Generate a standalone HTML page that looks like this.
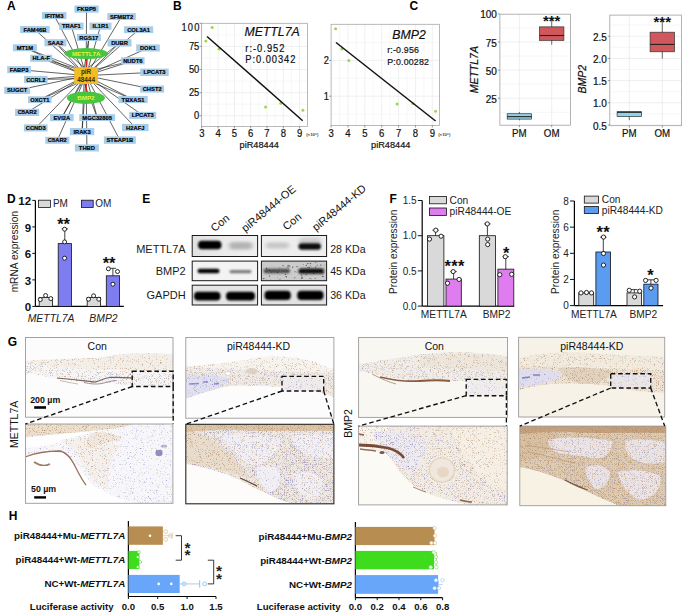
<!DOCTYPE html>
<html><head><meta charset="utf-8"><style>
html,body{margin:0;padding:0;background:#fff;}
body{width:685px;height:614px;overflow:hidden;}
svg{display:block;font-family:"Liberation Sans", sans-serif;}
</style></head><body>
<svg width="685" height="614" viewBox="0 0 685 614">
<rect x="0" y="0" width="685" height="614" fill="#fff"/>
<text x="7.00" y="9.87" font-size="12" font-weight="bold" text-anchor="start" fill="#000">A</text>
<line x1="86.55" y1="9.10" x2="86.10" y2="75.60" stroke="#111" stroke-width="0.65"/>
<line x1="54.20" y1="15.55" x2="86.10" y2="75.60" stroke="#111" stroke-width="0.65"/>
<line x1="121.55" y1="16.55" x2="86.10" y2="75.60" stroke="#111" stroke-width="0.65"/>
<line x1="71.35" y1="26.15" x2="86.10" y2="75.60" stroke="#111" stroke-width="0.65"/>
<line x1="100.50" y1="26.15" x2="86.10" y2="75.60" stroke="#111" stroke-width="0.65"/>
<line x1="34.90" y1="29.55" x2="86.10" y2="75.60" stroke="#111" stroke-width="0.65"/>
<line x1="138.60" y1="29.70" x2="86.10" y2="75.60" stroke="#111" stroke-width="0.65"/>
<line x1="88.85" y1="37.45" x2="86.10" y2="75.60" stroke="#111" stroke-width="0.65"/>
<line x1="88.85" y1="37.45" x2="83.10" y2="75.60" stroke="#111" stroke-width="0.6"/>
<line x1="55.40" y1="42.75" x2="86.10" y2="75.60" stroke="#111" stroke-width="0.65"/>
<line x1="55.40" y1="42.75" x2="90.10" y2="72.60" stroke="#111" stroke-width="0.6"/>
<line x1="119.55" y1="42.90" x2="86.10" y2="75.60" stroke="#111" stroke-width="0.65"/>
<line x1="119.55" y1="42.90" x2="82.10" y2="72.60" stroke="#111" stroke-width="0.6"/>
<line x1="24.85" y1="47.75" x2="86.10" y2="75.60" stroke="#111" stroke-width="0.65"/>
<line x1="24.85" y1="47.75" x2="86.10" y2="71.60" stroke="#111" stroke-width="0.6"/>
<line x1="148.00" y1="47.95" x2="86.10" y2="75.60" stroke="#111" stroke-width="0.65"/>
<line x1="41.25" y1="58.25" x2="86.10" y2="75.60" stroke="#111" stroke-width="0.65"/>
<line x1="41.25" y1="58.25" x2="86.10" y2="71.60" stroke="#111" stroke-width="0.6"/>
<line x1="132.85" y1="60.80" x2="86.10" y2="75.60" stroke="#111" stroke-width="0.65"/>
<line x1="132.85" y1="60.80" x2="86.10" y2="71.60" stroke="#111" stroke-width="0.6"/>
<line x1="19.05" y1="69.65" x2="86.10" y2="75.60" stroke="#111" stroke-width="0.65"/>
<line x1="154.45" y1="72.30" x2="86.10" y2="75.60" stroke="#111" stroke-width="0.65"/>
<line x1="35.80" y1="79.50" x2="86.10" y2="75.60" stroke="#111" stroke-width="0.65"/>
<line x1="35.80" y1="79.50" x2="86.10" y2="78.60" stroke="#111" stroke-width="0.6"/>
<line x1="152.15" y1="89.05" x2="86.10" y2="75.60" stroke="#111" stroke-width="0.65"/>
<line x1="17.10" y1="90.35" x2="86.10" y2="75.60" stroke="#111" stroke-width="0.65"/>
<line x1="39.80" y1="99.70" x2="86.10" y2="75.60" stroke="#111" stroke-width="0.65"/>
<line x1="39.80" y1="99.70" x2="86.10" y2="79.60" stroke="#111" stroke-width="0.6"/>
<line x1="133.05" y1="99.55" x2="86.10" y2="75.60" stroke="#111" stroke-width="0.65"/>
<line x1="133.05" y1="99.55" x2="86.10" y2="79.60" stroke="#111" stroke-width="0.6"/>
<line x1="27.15" y1="112.40" x2="86.10" y2="75.60" stroke="#111" stroke-width="0.65"/>
<line x1="142.75" y1="115.35" x2="86.10" y2="75.60" stroke="#111" stroke-width="0.65"/>
<line x1="61.80" y1="117.60" x2="86.10" y2="75.60" stroke="#111" stroke-width="0.65"/>
<line x1="61.80" y1="117.60" x2="83.10" y2="78.60" stroke="#111" stroke-width="0.6"/>
<line x1="97.20" y1="117.60" x2="86.10" y2="75.60" stroke="#111" stroke-width="0.65"/>
<line x1="97.20" y1="117.60" x2="83.10" y2="79.60" stroke="#111" stroke-width="0.6"/>
<line x1="35.75" y1="127.90" x2="86.10" y2="75.60" stroke="#111" stroke-width="0.65"/>
<line x1="135.30" y1="127.50" x2="86.10" y2="75.60" stroke="#111" stroke-width="0.65"/>
<line x1="82.10" y1="131.60" x2="86.10" y2="75.60" stroke="#111" stroke-width="0.65"/>
<line x1="82.10" y1="131.60" x2="84.10" y2="79.60" stroke="#111" stroke-width="0.6"/>
<line x1="57.35" y1="140.30" x2="86.10" y2="75.60" stroke="#111" stroke-width="0.65"/>
<line x1="119.85" y1="140.10" x2="86.10" y2="75.60" stroke="#111" stroke-width="0.65"/>
<line x1="86.90" y1="147.95" x2="86.10" y2="75.60" stroke="#111" stroke-width="0.65"/>
<line x1="86.30" y1="56.00" x2="86.30" y2="70.00" stroke="#e0201a" stroke-width="1.1"/>
<line x1="86.30" y1="82.00" x2="86.30" y2="96.00" stroke="#e0201a" stroke-width="1.1"/>
<rect x="74.40" y="5.50" width="24.30" height="7.20" fill="#a8cde9" stroke="none" stroke-width="1"/>
<text x="86.55" y="11.19" font-size="5.8" font-weight="bold" text-anchor="middle" fill="#000" stroke="#000" stroke-width="0.18">FKBP5</text>
<rect x="42.00" y="12.10" width="24.40" height="6.90" fill="#a8cde9" stroke="none" stroke-width="1"/>
<text x="54.20" y="17.64" font-size="5.8" font-weight="bold" text-anchor="middle" fill="#000" stroke="#000" stroke-width="0.18">IFITM3</text>
<rect x="107.30" y="13.10" width="28.50" height="6.90" fill="#a8cde9" stroke="none" stroke-width="1"/>
<text x="121.55" y="18.64" font-size="5.8" font-weight="bold" text-anchor="middle" fill="#000" stroke="#000" stroke-width="0.18">SFMBT2</text>
<rect x="59.10" y="22.60" width="24.50" height="7.10" fill="#a8cde9" stroke="none" stroke-width="1"/>
<text x="71.35" y="28.24" font-size="5.8" font-weight="bold" text-anchor="middle" fill="#000" stroke="#000" stroke-width="0.18">TRAF1</text>
<rect x="89.50" y="22.60" width="22.00" height="7.10" fill="#a8cde9" stroke="none" stroke-width="1"/>
<text x="100.50" y="28.24" font-size="5.8" font-weight="bold" text-anchor="middle" fill="#000" stroke="#000" stroke-width="0.18">IL1R1</text>
<rect x="20.10" y="26.00" width="29.60" height="7.10" fill="#a8cde9" stroke="none" stroke-width="1"/>
<text x="34.90" y="31.64" font-size="5.8" font-weight="bold" text-anchor="middle" fill="#000" stroke="#000" stroke-width="0.18">FAM46B</text>
<rect x="124.00" y="26.30" width="29.20" height="6.80" fill="#a8cde9" stroke="none" stroke-width="1"/>
<text x="138.60" y="31.79" font-size="5.8" font-weight="bold" text-anchor="middle" fill="#000" stroke="#000" stroke-width="0.18">COL3A1</text>
<rect x="76.90" y="33.90" width="23.90" height="7.10" fill="#a8cde9" stroke="none" stroke-width="1"/>
<text x="88.85" y="39.54" font-size="5.8" font-weight="bold" text-anchor="middle" fill="#000" stroke="#000" stroke-width="0.18">RGS17</text>
<rect x="44.40" y="39.20" width="22.00" height="7.10" fill="#a8cde9" stroke="none" stroke-width="1"/>
<text x="55.40" y="44.84" font-size="5.8" font-weight="bold" text-anchor="middle" fill="#000" stroke="#000" stroke-width="0.18">SAA2</text>
<rect x="107.60" y="39.20" width="23.90" height="7.40" fill="#a8cde9" stroke="none" stroke-width="1"/>
<text x="119.55" y="44.99" font-size="5.8" font-weight="bold" text-anchor="middle" fill="#000" stroke="#000" stroke-width="0.18">DUBR</text>
<rect x="12.90" y="44.30" width="23.90" height="6.90" fill="#a8cde9" stroke="none" stroke-width="1"/>
<text x="24.85" y="49.84" font-size="5.8" font-weight="bold" text-anchor="middle" fill="#000" stroke="#000" stroke-width="0.18">MT1M</text>
<rect x="136.20" y="44.40" width="23.60" height="7.10" fill="#a8cde9" stroke="none" stroke-width="1"/>
<text x="148.00" y="50.04" font-size="5.8" font-weight="bold" text-anchor="middle" fill="#000" stroke="#000" stroke-width="0.18">DOK1</text>
<rect x="30.20" y="54.70" width="22.10" height="7.10" fill="#a8cde9" stroke="none" stroke-width="1"/>
<text x="41.25" y="60.34" font-size="5.8" font-weight="bold" text-anchor="middle" fill="#000" stroke="#000" stroke-width="0.18">HLA-F</text>
<rect x="121.10" y="57.20" width="23.50" height="7.20" fill="#a8cde9" stroke="none" stroke-width="1"/>
<text x="132.85" y="62.89" font-size="5.8" font-weight="bold" text-anchor="middle" fill="#000" stroke="#000" stroke-width="0.18">NUDT6</text>
<rect x="7.20" y="66.10" width="23.70" height="7.10" fill="#a8cde9" stroke="none" stroke-width="1"/>
<text x="19.05" y="71.74" font-size="5.8" font-weight="bold" text-anchor="middle" fill="#000" stroke="#000" stroke-width="0.18">FABP3</text>
<rect x="140.20" y="68.60" width="28.50" height="7.40" fill="#a8cde9" stroke="none" stroke-width="1"/>
<text x="154.45" y="74.39" font-size="5.8" font-weight="bold" text-anchor="middle" fill="#000" stroke="#000" stroke-width="0.18">LPCAT3</text>
<rect x="24.00" y="75.90" width="23.60" height="7.20" fill="#a8cde9" stroke="none" stroke-width="1"/>
<text x="35.80" y="81.59" font-size="5.8" font-weight="bold" text-anchor="middle" fill="#000" stroke="#000" stroke-width="0.18">CCRL2</text>
<rect x="140.20" y="85.50" width="23.90" height="7.10" fill="#a8cde9" stroke="none" stroke-width="1"/>
<text x="152.15" y="91.14" font-size="5.8" font-weight="bold" text-anchor="middle" fill="#000" stroke="#000" stroke-width="0.18">CHST2</text>
<rect x="4.20" y="86.80" width="25.80" height="7.10" fill="#a8cde9" stroke="none" stroke-width="1"/>
<text x="17.10" y="92.44" font-size="5.8" font-weight="bold" text-anchor="middle" fill="#000" stroke="#000" stroke-width="0.18">SUGCT</text>
<rect x="28.00" y="96.30" width="23.60" height="6.80" fill="#a8cde9" stroke="none" stroke-width="1"/>
<text x="39.80" y="101.79" font-size="5.8" font-weight="bold" text-anchor="middle" fill="#000" stroke="#000" stroke-width="0.18">OXCT1</text>
<rect x="118.40" y="96.00" width="29.30" height="7.10" fill="#a8cde9" stroke="none" stroke-width="1"/>
<text x="133.05" y="101.64" font-size="5.8" font-weight="bold" text-anchor="middle" fill="#000" stroke="#000" stroke-width="0.18">TBXAS1</text>
<rect x="15.10" y="108.80" width="24.10" height="7.20" fill="#a8cde9" stroke="none" stroke-width="1"/>
<text x="27.15" y="114.49" font-size="5.8" font-weight="bold" text-anchor="middle" fill="#000" stroke="#000" stroke-width="0.18">C5AR2</text>
<rect x="129.30" y="111.80" width="26.90" height="7.10" fill="#a8cde9" stroke="none" stroke-width="1"/>
<text x="142.75" y="117.44" font-size="5.8" font-weight="bold" text-anchor="middle" fill="#000" stroke="#000" stroke-width="0.18">LPCAT3</text>
<rect x="50.00" y="114.00" width="23.60" height="7.20" fill="#a8cde9" stroke="none" stroke-width="1"/>
<text x="61.80" y="119.69" font-size="5.8" font-weight="bold" text-anchor="middle" fill="#000" stroke="#000" stroke-width="0.18">EVI2A</text>
<rect x="79.30" y="114.20" width="35.80" height="6.80" fill="#a8cde9" stroke="none" stroke-width="1"/>
<text x="97.20" y="119.69" font-size="5.8" font-weight="bold" text-anchor="middle" fill="#000" stroke="#000" stroke-width="0.18">MGC32805</text>
<rect x="23.90" y="124.30" width="23.70" height="7.20" fill="#a8cde9" stroke="none" stroke-width="1"/>
<text x="35.75" y="129.99" font-size="5.8" font-weight="bold" text-anchor="middle" fill="#000" stroke="#000" stroke-width="0.18">CCND3</text>
<rect x="122.00" y="123.90" width="26.60" height="7.20" fill="#a8cde9" stroke="none" stroke-width="1"/>
<text x="135.30" y="129.59" font-size="5.8" font-weight="bold" text-anchor="middle" fill="#000" stroke="#000" stroke-width="0.18">H2AFJ</text>
<rect x="69.90" y="128.00" width="24.40" height="7.20" fill="#a8cde9" stroke="none" stroke-width="1"/>
<text x="82.10" y="133.69" font-size="5.8" font-weight="bold" text-anchor="middle" fill="#000" stroke="#000" stroke-width="0.18">IRAK3</text>
<rect x="45.30" y="136.80" width="24.10" height="7.00" fill="#a8cde9" stroke="none" stroke-width="1"/>
<text x="57.35" y="142.39" font-size="5.8" font-weight="bold" text-anchor="middle" fill="#000" stroke="#000" stroke-width="0.18">C5AR2</text>
<rect x="103.90" y="136.40" width="31.90" height="7.40" fill="#a8cde9" stroke="none" stroke-width="1"/>
<text x="119.85" y="142.19" font-size="5.8" font-weight="bold" text-anchor="middle" fill="#000" stroke="#000" stroke-width="0.18">STEAP1B</text>
<rect x="74.90" y="144.40" width="24.00" height="7.10" fill="#a8cde9" stroke="none" stroke-width="1"/>
<text x="86.90" y="150.04" font-size="5.8" font-weight="bold" text-anchor="middle" fill="#000" stroke="#000" stroke-width="0.18">THBD</text>
<ellipse cx="86.2" cy="53.6" rx="21.8" ry="5.5" fill="#46c640"/>
<text x="86.20" y="55.83" font-size="6.2" font-weight="bold" text-anchor="middle" fill="#e6f23a">METTL7A</text>
<ellipse cx="85.9" cy="97.8" rx="19.1" ry="6.2" fill="#46c640"/>
<text x="85.90" y="100.03" font-size="6.2" font-weight="bold" text-anchor="middle" fill="#e6f23a">BMP2</text>
<rect x="74.20" y="67.20" width="23.80" height="16.80" fill="#f2bd22" stroke="none" stroke-width="1"/>
<text x="86.10" y="73.90" font-size="6.4" font-weight="bold" text-anchor="middle" fill="#3b2a05">piR</text>
<text x="86.10" y="82.30" font-size="6.4" font-weight="bold" text-anchor="middle" fill="#3b2a05">48444</text>
<text x="172.90" y="9.82" font-size="12" font-weight="bold" text-anchor="start" fill="#000">B</text>
<line x1="201.80" y1="23.30" x2="201.80" y2="126.40" stroke="#e9e9e9" stroke-width="0.7"/>
<line x1="209.95" y1="23.30" x2="209.95" y2="126.40" stroke="#f3f3f3" stroke-width="0.7"/>
<line x1="218.10" y1="23.30" x2="218.10" y2="126.40" stroke="#e9e9e9" stroke-width="0.7"/>
<line x1="226.25" y1="23.30" x2="226.25" y2="126.40" stroke="#f3f3f3" stroke-width="0.7"/>
<line x1="234.40" y1="23.30" x2="234.40" y2="126.40" stroke="#e9e9e9" stroke-width="0.7"/>
<line x1="242.55" y1="23.30" x2="242.55" y2="126.40" stroke="#f3f3f3" stroke-width="0.7"/>
<line x1="250.70" y1="23.30" x2="250.70" y2="126.40" stroke="#e9e9e9" stroke-width="0.7"/>
<line x1="258.85" y1="23.30" x2="258.85" y2="126.40" stroke="#f3f3f3" stroke-width="0.7"/>
<line x1="267.00" y1="23.30" x2="267.00" y2="126.40" stroke="#e9e9e9" stroke-width="0.7"/>
<line x1="275.15" y1="23.30" x2="275.15" y2="126.40" stroke="#f3f3f3" stroke-width="0.7"/>
<line x1="283.30" y1="23.30" x2="283.30" y2="126.40" stroke="#e9e9e9" stroke-width="0.7"/>
<line x1="291.45" y1="23.30" x2="291.45" y2="126.40" stroke="#f3f3f3" stroke-width="0.7"/>
<line x1="299.60" y1="23.30" x2="299.60" y2="126.40" stroke="#e9e9e9" stroke-width="0.7"/>
<line x1="201.50" y1="104.23" x2="307.50" y2="104.23" stroke="#f3f3f3" stroke-width="0.7"/>
<line x1="201.50" y1="81.10" x2="307.50" y2="81.10" stroke="#f3f3f3" stroke-width="0.7"/>
<line x1="201.50" y1="57.97" x2="307.50" y2="57.97" stroke="#f3f3f3" stroke-width="0.7"/>
<line x1="201.50" y1="34.84" x2="307.50" y2="34.84" stroke="#f3f3f3" stroke-width="0.7"/>
<line x1="201.50" y1="115.80" x2="307.50" y2="115.80" stroke="#e9e9e9" stroke-width="0.7"/>
<line x1="201.50" y1="92.67" x2="307.50" y2="92.67" stroke="#e9e9e9" stroke-width="0.7"/>
<line x1="201.50" y1="69.53" x2="307.50" y2="69.53" stroke="#e9e9e9" stroke-width="0.7"/>
<line x1="201.50" y1="46.40" x2="307.50" y2="46.40" stroke="#e9e9e9" stroke-width="0.7"/>
<rect x="201.50" y="23.30" width="106.00" height="103.10" fill="none" stroke="#a8a8a8" stroke-width="0.8"/>
<line x1="201.80" y1="126.40" x2="201.80" y2="128.40" stroke="#555" stroke-width="0.6"/>
<text x="201.80" y="136.82" font-size="10.6" text-anchor="middle" fill="#111" transform="translate(201.80 0) scale(0.9 1) translate(-201.80 0)" stroke="#111" stroke-width="0.2">3</text>
<line x1="218.10" y1="126.40" x2="218.10" y2="128.40" stroke="#555" stroke-width="0.6"/>
<text x="218.10" y="136.82" font-size="10.6" text-anchor="middle" fill="#111" transform="translate(218.10 0) scale(0.9 1) translate(-218.10 0)" stroke="#111" stroke-width="0.2">4</text>
<line x1="234.40" y1="126.40" x2="234.40" y2="128.40" stroke="#555" stroke-width="0.6"/>
<text x="234.40" y="136.82" font-size="10.6" text-anchor="middle" fill="#111" transform="translate(234.40 0) scale(0.9 1) translate(-234.40 0)" stroke="#111" stroke-width="0.2">5</text>
<line x1="250.70" y1="126.40" x2="250.70" y2="128.40" stroke="#555" stroke-width="0.6"/>
<text x="250.70" y="136.82" font-size="10.6" text-anchor="middle" fill="#111" transform="translate(250.70 0) scale(0.9 1) translate(-250.70 0)" stroke="#111" stroke-width="0.2">6</text>
<line x1="267.00" y1="126.40" x2="267.00" y2="128.40" stroke="#555" stroke-width="0.6"/>
<text x="267.00" y="136.82" font-size="10.6" text-anchor="middle" fill="#111" transform="translate(267.00 0) scale(0.9 1) translate(-267.00 0)" stroke="#111" stroke-width="0.2">7</text>
<line x1="283.30" y1="126.40" x2="283.30" y2="128.40" stroke="#555" stroke-width="0.6"/>
<text x="283.30" y="136.82" font-size="10.6" text-anchor="middle" fill="#111" transform="translate(283.30 0) scale(0.9 1) translate(-283.30 0)" stroke="#111" stroke-width="0.2">8</text>
<line x1="299.60" y1="126.40" x2="299.60" y2="128.40" stroke="#555" stroke-width="0.6"/>
<text x="299.60" y="136.82" font-size="10.6" text-anchor="middle" fill="#111" transform="translate(299.60 0) scale(0.9 1) translate(-299.60 0)" stroke="#111" stroke-width="0.2">9</text>
<line x1="199.50" y1="23.27" x2="201.50" y2="23.27" stroke="#555" stroke-width="0.6"/>
<text x="200.70" y="31.32" font-size="10.6" text-anchor="end" fill="#111" letter-spacing="1.4" transform="translate(200.70 0) scale(0.88 1) translate(-200.70 0)" stroke="#111" stroke-width="0.2">100</text>
<line x1="199.50" y1="46.40" x2="201.50" y2="46.40" stroke="#555" stroke-width="0.6"/>
<text x="199.30" y="49.82" font-size="10.6" text-anchor="end" fill="#111" transform="translate(199.30 0) scale(0.88 1) translate(-199.30 0)" stroke="#111" stroke-width="0.2">75</text>
<line x1="199.50" y1="69.53" x2="201.50" y2="69.53" stroke="#555" stroke-width="0.6"/>
<text x="199.30" y="72.95" font-size="10.6" text-anchor="end" fill="#111" transform="translate(199.30 0) scale(0.88 1) translate(-199.30 0)" stroke="#111" stroke-width="0.2">50</text>
<line x1="199.50" y1="92.67" x2="201.50" y2="92.67" stroke="#555" stroke-width="0.6"/>
<text x="199.30" y="96.08" font-size="10.6" text-anchor="end" fill="#111" transform="translate(199.30 0) scale(0.88 1) translate(-199.30 0)" stroke="#111" stroke-width="0.2">25</text>
<line x1="199.50" y1="115.80" x2="201.50" y2="115.80" stroke="#555" stroke-width="0.6"/>
<text x="199.30" y="119.22" font-size="10.6" text-anchor="end" fill="#111" transform="translate(199.30 0) scale(0.88 1) translate(-199.30 0)" stroke="#111" stroke-width="0.2">0</text>
<circle cx="205.90" cy="40.90" r="1.5" fill="#9ad84a" stroke="none" stroke-width="0"/>
<circle cx="212.20" cy="27.60" r="1.5" fill="#9ad84a" stroke="none" stroke-width="0"/>
<circle cx="219.00" cy="49.00" r="1.5" fill="#9ad84a" stroke="none" stroke-width="0"/>
<circle cx="265.60" cy="106.90" r="1.5" fill="#9ad84a" stroke="none" stroke-width="0"/>
<circle cx="280.80" cy="103.30" r="1.5" fill="#9ad84a" stroke="none" stroke-width="0"/>
<circle cx="302.90" cy="110.30" r="1.5" fill="#9ad84a" stroke="none" stroke-width="0"/>
<line x1="207.00" y1="36.50" x2="302.70" y2="120.70" stroke="#111" stroke-width="1.5"/>
<text x="244.40" y="36.40" font-size="12.3" font-style="italic" text-anchor="start" fill="#111" stroke="#111" stroke-width="0.2">METTL7A</text>
<text x="245.30" y="51.52" font-size="10.6" text-anchor="start" fill="#111" letter-spacing="1.15" transform="translate(245.30 0) scale(0.88 1) translate(-245.30 0)" stroke="#111" stroke-width="0.2">r:-0.952</text>
<text x="245.30" y="63.42" font-size="10.6" text-anchor="start" fill="#111" letter-spacing="1.08" transform="translate(245.30 0) scale(0.88 1) translate(-245.30 0)" stroke="#111" stroke-width="0.2">P:0.00342</text>
<text x="306.20" y="135.55" font-size="4.3" font-weight="bold" text-anchor="start" fill="#444">(×10⁶)</text>
<text x="259.20" y="147.81" font-size="9.2" text-anchor="middle" fill="#111" stroke="#111" stroke-width="0.2">piR48444</text>
<line x1="339.54" y1="24.30" x2="339.54" y2="125.50" stroke="#f3f3f3" stroke-width="0.7"/>
<line x1="347.97" y1="24.30" x2="347.97" y2="125.50" stroke="#e9e9e9" stroke-width="0.7"/>
<line x1="356.41" y1="24.30" x2="356.41" y2="125.50" stroke="#f3f3f3" stroke-width="0.7"/>
<line x1="364.84" y1="24.30" x2="364.84" y2="125.50" stroke="#e9e9e9" stroke-width="0.7"/>
<line x1="373.28" y1="24.30" x2="373.28" y2="125.50" stroke="#f3f3f3" stroke-width="0.7"/>
<line x1="381.71" y1="24.30" x2="381.71" y2="125.50" stroke="#e9e9e9" stroke-width="0.7"/>
<line x1="390.15" y1="24.30" x2="390.15" y2="125.50" stroke="#f3f3f3" stroke-width="0.7"/>
<line x1="398.58" y1="24.30" x2="398.58" y2="125.50" stroke="#e9e9e9" stroke-width="0.7"/>
<line x1="407.02" y1="24.30" x2="407.02" y2="125.50" stroke="#f3f3f3" stroke-width="0.7"/>
<line x1="415.45" y1="24.30" x2="415.45" y2="125.50" stroke="#e9e9e9" stroke-width="0.7"/>
<line x1="423.89" y1="24.30" x2="423.89" y2="125.50" stroke="#f3f3f3" stroke-width="0.7"/>
<line x1="432.32" y1="24.30" x2="432.32" y2="125.50" stroke="#e9e9e9" stroke-width="0.7"/>
<line x1="331.10" y1="114.10" x2="439.50" y2="114.10" stroke="#f3f3f3" stroke-width="0.7"/>
<line x1="331.10" y1="78.30" x2="439.50" y2="78.30" stroke="#f3f3f3" stroke-width="0.7"/>
<line x1="331.10" y1="42.50" x2="439.50" y2="42.50" stroke="#f3f3f3" stroke-width="0.7"/>
<line x1="331.10" y1="96.20" x2="439.50" y2="96.20" stroke="#e9e9e9" stroke-width="0.7"/>
<line x1="331.10" y1="60.40" x2="439.50" y2="60.40" stroke="#e9e9e9" stroke-width="0.7"/>
<rect x="331.10" y="24.30" width="108.40" height="101.20" fill="none" stroke="#a8a8a8" stroke-width="0.8"/>
<line x1="331.10" y1="125.50" x2="331.10" y2="127.50" stroke="#555" stroke-width="0.6"/>
<text x="331.10" y="136.82" font-size="10.6" text-anchor="middle" fill="#111" transform="translate(331.10 0) scale(0.9 1) translate(-331.10 0)" stroke="#111" stroke-width="0.2">3</text>
<line x1="347.97" y1="125.50" x2="347.97" y2="127.50" stroke="#555" stroke-width="0.6"/>
<text x="347.97" y="136.82" font-size="10.6" text-anchor="middle" fill="#111" transform="translate(347.97 0) scale(0.9 1) translate(-347.97 0)" stroke="#111" stroke-width="0.2">4</text>
<line x1="364.84" y1="125.50" x2="364.84" y2="127.50" stroke="#555" stroke-width="0.6"/>
<text x="364.84" y="136.82" font-size="10.6" text-anchor="middle" fill="#111" transform="translate(364.84 0) scale(0.9 1) translate(-364.84 0)" stroke="#111" stroke-width="0.2">5</text>
<line x1="381.71" y1="125.50" x2="381.71" y2="127.50" stroke="#555" stroke-width="0.6"/>
<text x="381.71" y="136.82" font-size="10.6" text-anchor="middle" fill="#111" transform="translate(381.71 0) scale(0.9 1) translate(-381.71 0)" stroke="#111" stroke-width="0.2">6</text>
<line x1="398.58" y1="125.50" x2="398.58" y2="127.50" stroke="#555" stroke-width="0.6"/>
<text x="398.58" y="136.82" font-size="10.6" text-anchor="middle" fill="#111" transform="translate(398.58 0) scale(0.9 1) translate(-398.58 0)" stroke="#111" stroke-width="0.2">7</text>
<line x1="415.45" y1="125.50" x2="415.45" y2="127.50" stroke="#555" stroke-width="0.6"/>
<text x="415.45" y="136.82" font-size="10.6" text-anchor="middle" fill="#111" transform="translate(415.45 0) scale(0.9 1) translate(-415.45 0)" stroke="#111" stroke-width="0.2">8</text>
<line x1="432.32" y1="125.50" x2="432.32" y2="127.50" stroke="#555" stroke-width="0.6"/>
<text x="432.32" y="136.82" font-size="10.6" text-anchor="middle" fill="#111" transform="translate(432.32 0) scale(0.9 1) translate(-432.32 0)" stroke="#111" stroke-width="0.2">9</text>
<line x1="329.10" y1="60.40" x2="331.10" y2="60.40" stroke="#555" stroke-width="0.6"/>
<text x="328.90" y="63.82" font-size="10.6" text-anchor="end" fill="#111" transform="translate(328.90 0) scale(0.88 1) translate(-328.90 0)" stroke="#111" stroke-width="0.2">2</text>
<line x1="329.10" y1="96.20" x2="331.10" y2="96.20" stroke="#555" stroke-width="0.6"/>
<text x="328.90" y="99.62" font-size="10.6" text-anchor="end" fill="#111" transform="translate(328.90 0) scale(0.88 1) translate(-328.90 0)" stroke="#111" stroke-width="0.2">1</text>
<circle cx="335.60" cy="28.80" r="1.5" fill="#9ad84a" stroke="none" stroke-width="0"/>
<circle cx="341.90" cy="48.90" r="1.5" fill="#9ad84a" stroke="none" stroke-width="0"/>
<circle cx="348.90" cy="60.40" r="1.5" fill="#9ad84a" stroke="none" stroke-width="0"/>
<circle cx="397.10" cy="104.00" r="1.5" fill="#9ad84a" stroke="none" stroke-width="0"/>
<circle cx="412.80" cy="103.60" r="1.5" fill="#9ad84a" stroke="none" stroke-width="0"/>
<circle cx="435.60" cy="111.20" r="1.5" fill="#9ad84a" stroke="none" stroke-width="0"/>
<line x1="336.00" y1="42.50" x2="435.60" y2="121.00" stroke="#111" stroke-width="1.5"/>
<text x="392.30" y="39.00" font-size="12.3" font-style="italic" text-anchor="start" fill="#111" stroke="#111" stroke-width="0.2">BMP2</text>
<text x="387.20" y="53.43" font-size="9.8" text-anchor="start" fill="#111" letter-spacing="0.21" transform="translate(387.20 0) scale(0.9 1) translate(-387.20 0)" stroke="#111" stroke-width="0.2">r:-0.956</text>
<text x="387.20" y="65.23" font-size="9.8" text-anchor="start" fill="#111" letter-spacing="0.22" transform="translate(387.20 0) scale(0.9 1) translate(-387.20 0)" stroke="#111" stroke-width="0.2">P:0.00282</text>
<text x="438.20" y="135.55" font-size="4.3" font-weight="bold" text-anchor="start" fill="#444">(×10⁶)</text>
<text x="390.70" y="147.81" font-size="9.2" text-anchor="middle" fill="#111" stroke="#111" stroke-width="0.2">piR48444</text>
<text x="409.60" y="9.82" font-size="12" font-weight="bold" text-anchor="start" fill="#000">C</text>
<line x1="499.90" y1="112.25" x2="570.50" y2="112.25" stroke="#f2f2f2" stroke-width="0.7"/>
<line x1="499.90" y1="84.16" x2="570.50" y2="84.16" stroke="#f2f2f2" stroke-width="0.7"/>
<line x1="499.90" y1="56.08" x2="570.50" y2="56.08" stroke="#f2f2f2" stroke-width="0.7"/>
<line x1="499.90" y1="27.98" x2="570.50" y2="27.98" stroke="#f2f2f2" stroke-width="0.7"/>
<line x1="499.90" y1="42.03" x2="570.50" y2="42.03" stroke="#e8e8e8" stroke-width="0.7"/>
<line x1="499.90" y1="70.12" x2="570.50" y2="70.12" stroke="#e8e8e8" stroke-width="0.7"/>
<line x1="499.90" y1="98.21" x2="570.50" y2="98.21" stroke="#e8e8e8" stroke-width="0.7"/>
<line x1="519.40" y1="14.20" x2="519.40" y2="125.20" stroke="#e8e8e8" stroke-width="0.7"/>
<line x1="551.70" y1="14.20" x2="551.70" y2="125.20" stroke="#e8e8e8" stroke-width="0.7"/>
<rect x="499.90" y="14.20" width="70.60" height="111.00" fill="none" stroke="#a0a0a0" stroke-width="0.8"/>
<line x1="497.90" y1="13.94" x2="499.90" y2="13.94" stroke="#555" stroke-width="0.6"/>
<text x="496.90" y="18.44" font-size="10" text-anchor="end" fill="#111" stroke="#111" stroke-width="0.22">100</text>
<line x1="497.90" y1="42.03" x2="499.90" y2="42.03" stroke="#555" stroke-width="0.6"/>
<text x="496.90" y="46.53" font-size="10" text-anchor="end" fill="#111" stroke="#111" stroke-width="0.22">75</text>
<line x1="497.90" y1="70.12" x2="499.90" y2="70.12" stroke="#555" stroke-width="0.6"/>
<text x="496.90" y="74.62" font-size="10" text-anchor="end" fill="#111" stroke="#111" stroke-width="0.22">50</text>
<line x1="497.90" y1="98.21" x2="499.90" y2="98.21" stroke="#555" stroke-width="0.6"/>
<text x="496.90" y="102.71" font-size="10" text-anchor="end" fill="#111" stroke="#111" stroke-width="0.22">25</text>
<line x1="519.40" y1="125.20" x2="519.40" y2="127.20" stroke="#555" stroke-width="0.6"/>
<text x="519.40" y="137.49" font-size="10.8" text-anchor="middle" fill="#111" transform="translate(519.40 0) scale(0.9 1) translate(-519.40 0)" stroke="#111" stroke-width="0.2">PM</text>
<line x1="551.70" y1="125.20" x2="551.70" y2="127.20" stroke="#555" stroke-width="0.6"/>
<text x="551.70" y="137.49" font-size="10.8" text-anchor="middle" fill="#111" transform="translate(551.70 0) scale(0.9 1) translate(-551.70 0)" stroke="#111" stroke-width="0.2">OM</text>
<line x1="519.40" y1="112.03" x2="519.40" y2="120.34" stroke="#333" stroke-width="0.7"/>
<rect x="507.20" y="113.72" width="24.40" height="5.39" fill="#8fd3ea" stroke="#333" stroke-width="0.7"/>
<line x1="507.20" y1="116.64" x2="531.60" y2="116.64" stroke="#222" stroke-width="1.1"/>
<line x1="551.70" y1="19.11" x2="551.70" y2="44.73" stroke="#333" stroke-width="0.7"/>
<rect x="539.50" y="26.86" width="24.40" height="13.48" fill="#d0585c" stroke="#333" stroke-width="0.7"/>
<line x1="539.50" y1="35.51" x2="563.90" y2="35.51" stroke="#222" stroke-width="1.1"/>
<text x="474.00" y="73.48" font-size="10.5" font-style="italic" text-anchor="middle" fill="#111" transform="rotate(-90 474.00 69.70)" stroke="#111" stroke-width="0.22">METTL7A</text>
<text x="551.70" y="25.98" font-size="15" font-weight="bold" text-anchor="middle" fill="#111">***</text>
<line x1="609.80" y1="113.90" x2="681.60" y2="113.90" stroke="#f2f2f2" stroke-width="0.7"/>
<line x1="609.80" y1="91.70" x2="681.60" y2="91.70" stroke="#f2f2f2" stroke-width="0.7"/>
<line x1="609.80" y1="69.50" x2="681.60" y2="69.50" stroke="#f2f2f2" stroke-width="0.7"/>
<line x1="609.80" y1="47.30" x2="681.60" y2="47.30" stroke="#f2f2f2" stroke-width="0.7"/>
<line x1="609.80" y1="25.10" x2="681.60" y2="25.10" stroke="#f2f2f2" stroke-width="0.7"/>
<line x1="609.80" y1="36.20" x2="681.60" y2="36.20" stroke="#e8e8e8" stroke-width="0.7"/>
<line x1="609.80" y1="58.40" x2="681.60" y2="58.40" stroke="#e8e8e8" stroke-width="0.7"/>
<line x1="609.80" y1="80.60" x2="681.60" y2="80.60" stroke="#e8e8e8" stroke-width="0.7"/>
<line x1="609.80" y1="102.80" x2="681.60" y2="102.80" stroke="#e8e8e8" stroke-width="0.7"/>
<line x1="609.80" y1="125.00" x2="681.60" y2="125.00" stroke="#e8e8e8" stroke-width="0.7"/>
<line x1="629.30" y1="15.10" x2="629.30" y2="125.70" stroke="#e8e8e8" stroke-width="0.7"/>
<line x1="662.30" y1="15.10" x2="662.30" y2="125.70" stroke="#e8e8e8" stroke-width="0.7"/>
<rect x="609.80" y="15.10" width="71.80" height="110.60" fill="none" stroke="#a0a0a0" stroke-width="0.8"/>
<line x1="607.80" y1="36.20" x2="609.80" y2="36.20" stroke="#555" stroke-width="0.6"/>
<text x="606.80" y="40.70" font-size="10" text-anchor="end" fill="#111" stroke="#111" stroke-width="0.22">2.5</text>
<line x1="607.80" y1="58.40" x2="609.80" y2="58.40" stroke="#555" stroke-width="0.6"/>
<text x="606.80" y="62.90" font-size="10" text-anchor="end" fill="#111" stroke="#111" stroke-width="0.22">2.0</text>
<line x1="607.80" y1="80.60" x2="609.80" y2="80.60" stroke="#555" stroke-width="0.6"/>
<text x="606.80" y="85.10" font-size="10" text-anchor="end" fill="#111" stroke="#111" stroke-width="0.22">1.5</text>
<line x1="607.80" y1="102.80" x2="609.80" y2="102.80" stroke="#555" stroke-width="0.6"/>
<text x="606.80" y="107.30" font-size="10" text-anchor="end" fill="#111" stroke="#111" stroke-width="0.22">1.0</text>
<line x1="607.80" y1="125.00" x2="609.80" y2="125.00" stroke="#555" stroke-width="0.6"/>
<text x="606.80" y="129.50" font-size="10" text-anchor="end" fill="#111" stroke="#111" stroke-width="0.22">0.5</text>
<line x1="629.30" y1="125.70" x2="629.30" y2="127.70" stroke="#555" stroke-width="0.6"/>
<text x="629.30" y="137.49" font-size="10.8" text-anchor="middle" fill="#111" transform="translate(629.30 0) scale(0.9 1) translate(-629.30 0)" stroke="#111" stroke-width="0.2">PM</text>
<line x1="662.30" y1="125.70" x2="662.30" y2="127.70" stroke="#555" stroke-width="0.6"/>
<text x="662.30" y="137.49" font-size="10.8" text-anchor="middle" fill="#111" transform="translate(662.30 0) scale(0.9 1) translate(-662.30 0)" stroke="#111" stroke-width="0.2">OM</text>
<line x1="629.30" y1="111.68" x2="629.30" y2="120.12" stroke="#333" stroke-width="0.7"/>
<rect x="617.10" y="111.68" width="24.40" height="4.88" fill="#8fd3ea" stroke="#333" stroke-width="0.7"/>
<line x1="617.10" y1="112.30" x2="641.50" y2="112.30" stroke="#222" stroke-width="1.1"/>
<line x1="662.30" y1="19.02" x2="662.30" y2="58.62" stroke="#333" stroke-width="0.7"/>
<rect x="650.10" y="32.20" width="24.40" height="19.58" fill="#d0585c" stroke="#333" stroke-width="0.7"/>
<line x1="650.10" y1="44.41" x2="674.50" y2="44.41" stroke="#222" stroke-width="1.1"/>
<text x="582.70" y="83.08" font-size="10.5" font-style="italic" text-anchor="middle" fill="#111" transform="rotate(-90 582.70 79.30)" stroke="#111" stroke-width="0.22">BMP2</text>
<text x="662.30" y="26.98" font-size="15" font-weight="bold" text-anchor="middle" fill="#111">***</text>
<text x="7.00" y="202.67" font-size="12" font-weight="bold" text-anchor="start" fill="#000">D</text>
<line x1="35.40" y1="200.40" x2="35.40" y2="306.40" stroke="#000" stroke-width="1.2"/>
<line x1="35.40" y1="306.40" x2="123.80" y2="306.40" stroke="#000" stroke-width="1.2"/>
<line x1="32.30" y1="306.40" x2="35.40" y2="306.40" stroke="#111" stroke-width="1.0"/>
<text x="31.10" y="311.04" font-size="11.5" font-weight="bold" text-anchor="end" fill="#111">0</text>
<line x1="32.30" y1="279.90" x2="35.40" y2="279.90" stroke="#111" stroke-width="1.0"/>
<text x="31.10" y="284.54" font-size="11.5" font-weight="bold" text-anchor="end" fill="#111">3</text>
<line x1="32.30" y1="253.40" x2="35.40" y2="253.40" stroke="#111" stroke-width="1.0"/>
<text x="31.10" y="258.04" font-size="11.5" font-weight="bold" text-anchor="end" fill="#111">6</text>
<line x1="32.30" y1="226.90" x2="35.40" y2="226.90" stroke="#111" stroke-width="1.0"/>
<text x="31.10" y="231.54" font-size="11.5" font-weight="bold" text-anchor="end" fill="#111">9</text>
<line x1="32.30" y1="200.40" x2="35.40" y2="200.40" stroke="#111" stroke-width="1.0"/>
<text x="31.10" y="205.04" font-size="11.5" font-weight="bold" text-anchor="end" fill="#111">12</text>
<text x="14.00" y="255.27" font-size="10.2" text-anchor="middle" fill="#222" transform="rotate(-90 14.00 251.60)">mRNA expression</text>
<rect x="39.20" y="297.57" width="13.30" height="8.83" fill="#d9d9d9" stroke="#111" stroke-width="0.8"/>
<rect x="58.20" y="243.60" width="13.20" height="62.80" fill="#7d7df0" stroke="#111" stroke-width="0.8"/>
<line x1="64.80" y1="243.60" x2="64.80" y2="228.90" stroke="#111" stroke-width="0.8"/>
<line x1="61.60" y1="228.90" x2="68.00" y2="228.90" stroke="#111" stroke-width="0.8"/>
<rect x="87.20" y="297.57" width="13.40" height="8.83" fill="#d9d9d9" stroke="#111" stroke-width="0.8"/>
<rect x="106.30" y="275.80" width="13.30" height="30.60" fill="#7d7df0" stroke="#111" stroke-width="0.8"/>
<line x1="112.90" y1="275.80" x2="112.90" y2="268.30" stroke="#111" stroke-width="0.8"/>
<line x1="109.70" y1="268.30" x2="116.10" y2="268.30" stroke="#111" stroke-width="0.8"/>
<circle cx="40.30" cy="299.60" r="2.0" fill="#fff" stroke="#111" stroke-width="0.9"/>
<circle cx="45.60" cy="295.50" r="2.0" fill="#fff" stroke="#111" stroke-width="0.9"/>
<circle cx="50.80" cy="298.60" r="2.0" fill="#fff" stroke="#111" stroke-width="0.9"/>
<circle cx="88.50" cy="299.20" r="2.0" fill="#fff" stroke="#111" stroke-width="0.9"/>
<circle cx="93.60" cy="295.80" r="2.0" fill="#fff" stroke="#111" stroke-width="0.9"/>
<circle cx="98.80" cy="299.20" r="2.0" fill="#fff" stroke="#111" stroke-width="0.9"/>
<circle cx="64.60" cy="229.20" r="2.0" fill="#fff" stroke="#111" stroke-width="0.9"/>
<circle cx="64.60" cy="241.90" r="2.0" fill="#fff" stroke="#111" stroke-width="0.9"/>
<circle cx="64.60" cy="258.20" r="2.0" fill="#fff" stroke="#111" stroke-width="0.9"/>
<circle cx="108.40" cy="268.80" r="2.0" fill="#fff" stroke="#111" stroke-width="0.9"/>
<circle cx="117.50" cy="271.50" r="2.0" fill="#fff" stroke="#111" stroke-width="0.9"/>
<circle cx="112.90" cy="284.20" r="2.0" fill="#fff" stroke="#111" stroke-width="0.9"/>
<text x="63.60" y="230.23" font-size="16.5" font-weight="bold" text-anchor="middle" fill="#111">**</text>
<text x="109.05" y="268.73" font-size="16.5" font-weight="bold" text-anchor="middle" fill="#111">**</text>
<rect x="38.50" y="200.20" width="11.90" height="7.20" fill="#d9d9d9" stroke="#111" stroke-width="0.8"/>
<text x="52.90" y="207.40" font-size="10.0" text-anchor="start" fill="#222">PM</text>
<rect x="81.50" y="200.20" width="11.70" height="7.20" fill="#7d7df0" stroke="#111" stroke-width="0.8"/>
<text x="95.30" y="207.40" font-size="10.0" text-anchor="start" fill="#222">OM</text>
<text x="51.10" y="321.74" font-size="10.4" font-style="italic" text-anchor="middle" fill="#222">METTL7A</text>
<text x="103.50" y="321.74" font-size="10.4" font-style="italic" text-anchor="middle" fill="#222">BMP2</text>
<text x="142.30" y="202.67" font-size="12" font-weight="bold" text-anchor="start" fill="#000">E</text>
<text x="185.70" y="252.56" font-size="11.0" text-anchor="end" fill="#1a1a1a">METTL7A</text>
<text x="185.70" y="275.26" font-size="11.0" text-anchor="end" fill="#1a1a1a">BMP2</text>
<text x="185.70" y="298.96" font-size="11.0" text-anchor="end" fill="#1a1a1a">GAPDH</text>
<text x="330.20" y="252.62" font-size="10.6" text-anchor="start" fill="#1a1a1a">28 KDa</text>
<text x="330.20" y="274.82" font-size="10.6" text-anchor="start" fill="#1a1a1a">45 KDa</text>
<text x="330.20" y="298.72" font-size="10.6" text-anchor="start" fill="#1a1a1a">36 KDa</text>
<text x="214.6" y="232.2" font-size="11.0" fill="#111" transform="rotate(-39.5 214.6 232.2)">Con</text>
<text x="245.2" y="232.6" font-size="11.0" fill="#111" transform="rotate(-39.5 245.2 232.6)">piR48444-OE</text>
<text x="286.6" y="230.8" font-size="11.0" fill="#111" transform="rotate(-39.5 286.6 230.8)">Con</text>
<text x="316.0" y="231.6" font-size="11.0" fill="#111" transform="rotate(-39.5 316.0 231.6)">piR48444-KD</text>
<defs>
<filter id="bl1" x="-20%" y="-50%" width="140%" height="200%"><feGaussianBlur stdDeviation="1.6 1.2"/></filter>
<filter id="bl2" x="-20%" y="-50%" width="140%" height="200%"><feGaussianBlur stdDeviation="2.2 1.6"/></filter>
</defs>
<defs><linearGradient id="wb1" x1="0" x2="1" y1="0" y2="0"><stop offset="0" stop-color="#e2e2e2"/><stop offset="0.5" stop-color="#ebebeb"/><stop offset="1" stop-color="#efefef"/></linearGradient><filter id="bl3" x="-20%" y="-60%" width="140%" height="220%"><feGaussianBlur stdDeviation="1.2 0.9"/></filter><filter id="bl4" x="-20%" y="-60%" width="140%" height="220%"><feGaussianBlur stdDeviation="2.0 1.5"/></filter></defs>
<rect x="192.20" y="235.50" width="65.40" height="21.00" fill="url(#wb1)" stroke="none" stroke-width="1"/>
<rect x="261.40" y="235.50" width="65.20" height="21.00" fill="#eeeeee" stroke="none" stroke-width="1"/>
<rect x="192.20" y="261.10" width="65.40" height="19.60" fill="#f3f3f3" stroke="none" stroke-width="1"/>
<rect x="261.40" y="261.10" width="65.20" height="19.60" fill="#cbcbcb" stroke="none" stroke-width="1"/>
<rect x="192.20" y="285.20" width="65.40" height="19.80" fill="#e6e6e6" stroke="none" stroke-width="1"/>
<rect x="261.40" y="285.20" width="65.20" height="19.80" fill="#e2e2e2" stroke="none" stroke-width="1"/>
<rect x="229" y="242.00" width="23.50" height="7.50" rx="3.75" fill="#b4b4b4" filter="url(#bl4)"/>
<rect x="198" y="240.80" width="23.50" height="8.40" rx="4.00" fill="#000" filter="url(#bl3)"/>
<rect x="266" y="242.60" width="23.00" height="6.00" rx="3.00" fill="#c6c6c6" filter="url(#bl4)"/>
<rect x="299" y="237.50" width="22.00" height="8.50" rx="4.00" fill="#cdcdcd" filter="url(#bl4)"/>
<rect x="298.5" y="243.20" width="22.50" height="6.60" rx="3.30" fill="#111" filter="url(#bl3)"/>
<rect x="197.5" y="268.80" width="22.00" height="4.40" rx="2.20" fill="#000" filter="url(#bl3)"/>
<rect x="229.5" y="270.00" width="22.00" height="3.20" rx="1.60" fill="#7a7a7a" filter="url(#bl3)"/>
<rect x="263.5" y="268.80" width="26.50" height="4.40" rx="2.20" fill="#4a4a4a" filter="url(#bl3)"/>
<rect x="298.5" y="268.60" width="25.50" height="5.20" rx="2.60" fill="#0c0c0c" filter="url(#bl3)"/>
<rect x="194" y="291.80" width="26.50" height="8.60" rx="4.00" fill="#000" filter="url(#bl3)"/>
<rect x="226" y="291.80" width="29.00" height="8.60" rx="4.00" fill="#000" filter="url(#bl3)"/>
<rect x="264.5" y="290.80" width="26.30" height="9.20" rx="4.00" fill="#000" filter="url(#bl3)"/>
<rect x="297.2" y="290.80" width="26.30" height="9.20" rx="4.00" fill="#000" filter="url(#bl3)"/>
<g opacity="0.85"><circle cx="301.7" cy="275.1" r="0.35" fill="#222"/><circle cx="311.4" cy="266.5" r="0.35" fill="#555"/><circle cx="269.6" cy="270.4" r="0.45" fill="#222"/><circle cx="296.8" cy="272.2" r="0.35" fill="#555"/><circle cx="288.2" cy="265.4" r="0.7" fill="#555"/><circle cx="310.5" cy="263.5" r="0.7" fill="#555"/><circle cx="270.8" cy="279.1" r="0.35" fill="#555"/><circle cx="311.2" cy="278.9" r="0.45" fill="#555"/><circle cx="280.7" cy="278.9" r="0.45" fill="#555"/><circle cx="321.8" cy="274.2" r="0.7" fill="#777"/><circle cx="263.9" cy="269.4" r="0.45" fill="#777"/><circle cx="266.6" cy="267.4" r="0.35" fill="#777"/><circle cx="266.7" cy="268.4" r="0.55" fill="#222"/><circle cx="306.4" cy="265.4" r="0.7" fill="#555"/><circle cx="266.1" cy="279.2" r="0.35" fill="#777"/><circle cx="315.7" cy="262.5" r="0.7" fill="#777"/><circle cx="286.2" cy="276.8" r="0.7" fill="#333"/><circle cx="307.1" cy="273.1" r="0.45" fill="#333"/><circle cx="310.1" cy="278.4" r="0.7" fill="#777"/><circle cx="294.8" cy="277.7" r="0.55" fill="#222"/><circle cx="269.3" cy="275.2" r="0.55" fill="#777"/><circle cx="264.8" cy="278.7" r="0.35" fill="#555"/><circle cx="284.0" cy="272.8" r="0.45" fill="#777"/><circle cx="279.9" cy="274.4" r="0.35" fill="#777"/><circle cx="305.7" cy="267.5" r="0.35" fill="#555"/><circle cx="307.9" cy="267.6" r="0.7" fill="#555"/><circle cx="307.9" cy="263.6" r="0.7" fill="#333"/><circle cx="277.5" cy="272.5" r="0.55" fill="#222"/><circle cx="303.5" cy="264.7" r="0.35" fill="#222"/><circle cx="283.6" cy="265.8" r="0.45" fill="#222"/><circle cx="269.2" cy="269.8" r="0.45" fill="#333"/><circle cx="315.7" cy="267.3" r="0.7" fill="#555"/><circle cx="324.0" cy="270.1" r="0.7" fill="#777"/><circle cx="292.7" cy="267.3" r="0.7" fill="#555"/><circle cx="269.6" cy="276.5" r="0.45" fill="#222"/><circle cx="317.2" cy="265.3" r="0.7" fill="#777"/><circle cx="295.0" cy="271.7" r="0.55" fill="#333"/><circle cx="312.0" cy="275.7" r="0.35" fill="#777"/><circle cx="285.4" cy="274.5" r="0.55" fill="#222"/><circle cx="279.2" cy="279.3" r="0.55" fill="#777"/><circle cx="303.4" cy="272.3" r="0.35" fill="#222"/><circle cx="297.0" cy="266.6" r="0.55" fill="#222"/><circle cx="280.7" cy="270.9" r="0.55" fill="#777"/><circle cx="279.8" cy="268.2" r="0.7" fill="#777"/><circle cx="320.6" cy="265.2" r="0.7" fill="#777"/><circle cx="322.8" cy="271.2" r="0.45" fill="#555"/><circle cx="315.2" cy="278.5" r="0.7" fill="#777"/><circle cx="306.1" cy="274.7" r="0.7" fill="#555"/><circle cx="301.4" cy="278.5" r="0.7" fill="#777"/><circle cx="301.8" cy="275.7" r="0.55" fill="#333"/><circle cx="274.8" cy="272.4" r="0.45" fill="#555"/><circle cx="310.3" cy="265.3" r="0.35" fill="#222"/><circle cx="324.2" cy="265.1" r="0.45" fill="#333"/><circle cx="282.5" cy="265.4" r="0.45" fill="#333"/><circle cx="288.7" cy="268.3" r="0.35" fill="#555"/><circle cx="277.5" cy="277.9" r="0.35" fill="#777"/><circle cx="288.0" cy="267.0" r="0.7" fill="#333"/><circle cx="305.9" cy="271.7" r="0.35" fill="#777"/><circle cx="268.5" cy="271.7" r="0.55" fill="#777"/><circle cx="322.9" cy="276.4" r="0.7" fill="#222"/><circle cx="313.7" cy="273.4" r="0.55" fill="#222"/><circle cx="271.5" cy="272.6" r="0.7" fill="#555"/><circle cx="323.5" cy="272.8" r="0.55" fill="#333"/><circle cx="286.6" cy="267.9" r="0.45" fill="#777"/><circle cx="302.2" cy="277.7" r="0.7" fill="#222"/><circle cx="289.7" cy="266.1" r="0.55" fill="#222"/><circle cx="323.8" cy="268.8" r="0.45" fill="#777"/><circle cx="309.2" cy="267.4" r="0.55" fill="#222"/><circle cx="263.7" cy="278.6" r="0.55" fill="#222"/><circle cx="321.1" cy="264.7" r="0.35" fill="#333"/></g>
<rect x="192.20" y="235.50" width="65.40" height="21.00" fill="none" stroke="#1a1a1a" stroke-width="1.0"/>
<rect x="261.40" y="235.50" width="65.20" height="21.00" fill="none" stroke="#1a1a1a" stroke-width="1.0"/>
<rect x="192.20" y="261.10" width="65.40" height="19.60" fill="none" stroke="#1a1a1a" stroke-width="1.0"/>
<rect x="261.40" y="261.10" width="65.20" height="19.60" fill="none" stroke="#1a1a1a" stroke-width="1.0"/>
<rect x="192.20" y="285.20" width="65.40" height="19.80" fill="none" stroke="#1a1a1a" stroke-width="1.0"/>
<rect x="261.40" y="285.20" width="65.20" height="19.80" fill="none" stroke="#1a1a1a" stroke-width="1.0"/>
<text x="389.60" y="202.72" font-size="12" font-weight="bold" text-anchor="start" fill="#000">F</text>
<line x1="422.20" y1="200.60" x2="422.20" y2="306.10" stroke="#000" stroke-width="1.2"/>
<line x1="422.20" y1="306.10" x2="514.20" y2="306.10" stroke="#000" stroke-width="1.2"/>
<line x1="417.80" y1="306.10" x2="422.20" y2="306.10" stroke="#111" stroke-width="1.0"/>
<text x="416.60" y="309.70" font-size="10.0" text-anchor="end" fill="#222">0.0</text>
<line x1="417.80" y1="270.90" x2="422.20" y2="270.90" stroke="#111" stroke-width="1.0"/>
<text x="416.60" y="274.50" font-size="10.0" text-anchor="end" fill="#222">0.5</text>
<line x1="417.80" y1="235.70" x2="422.20" y2="235.70" stroke="#111" stroke-width="1.0"/>
<text x="416.60" y="239.30" font-size="10.0" text-anchor="end" fill="#222">1.0</text>
<line x1="417.80" y1="200.50" x2="422.20" y2="200.50" stroke="#111" stroke-width="1.0"/>
<text x="416.60" y="204.10" font-size="10.0" text-anchor="end" fill="#222">1.5</text>
<rect x="427.40" y="235.70" width="16.50" height="70.40" fill="#d9d9d9" stroke="#111" stroke-width="0.8"/>
<rect x="446.00" y="279.07" width="15.30" height="27.03" fill="#de7cf0" stroke="#111" stroke-width="0.8"/>
<rect x="479.30" y="235.70" width="16.30" height="70.40" fill="#d9d9d9" stroke="#111" stroke-width="0.8"/>
<rect x="497.90" y="269.14" width="15.90" height="36.96" fill="#de7cf0" stroke="#111" stroke-width="0.8"/>
<line x1="435.60" y1="235.50" x2="435.60" y2="230.20" stroke="#111" stroke-width="0.8"/>
<line x1="432.40" y1="230.20" x2="438.80" y2="230.20" stroke="#111" stroke-width="0.8"/>
<line x1="453.60" y1="279.00" x2="453.60" y2="271.60" stroke="#111" stroke-width="0.8"/>
<line x1="450.40" y1="271.60" x2="456.80" y2="271.60" stroke="#111" stroke-width="0.8"/>
<line x1="487.40" y1="235.50" x2="487.40" y2="223.90" stroke="#111" stroke-width="0.8"/>
<line x1="484.20" y1="223.90" x2="490.60" y2="223.90" stroke="#111" stroke-width="0.8"/>
<line x1="505.80" y1="269.40" x2="505.80" y2="256.70" stroke="#111" stroke-width="0.8"/>
<line x1="502.60" y1="256.70" x2="509.00" y2="256.70" stroke="#111" stroke-width="0.8"/>
<circle cx="435.80" cy="230.20" r="2.1" fill="#fff" stroke="#111" stroke-width="0.9"/>
<circle cx="429.50" cy="239.10" r="2.1" fill="#fff" stroke="#111" stroke-width="0.9"/>
<circle cx="441.10" cy="236.20" r="2.1" fill="#fff" stroke="#111" stroke-width="0.9"/>
<circle cx="453.20" cy="271.60" r="2.1" fill="#fff" stroke="#111" stroke-width="0.9"/>
<circle cx="447.50" cy="283.20" r="2.1" fill="#fff" stroke="#111" stroke-width="0.9"/>
<circle cx="459.10" cy="279.40" r="2.1" fill="#fff" stroke="#111" stroke-width="0.9"/>
<circle cx="487.30" cy="223.90" r="2.1" fill="#fff" stroke="#111" stroke-width="0.9"/>
<circle cx="487.70" cy="239.10" r="2.1" fill="#fff" stroke="#111" stroke-width="0.9"/>
<circle cx="487.70" cy="244.60" r="2.1" fill="#fff" stroke="#111" stroke-width="0.9"/>
<circle cx="505.30" cy="256.70" r="2.1" fill="#fff" stroke="#111" stroke-width="0.9"/>
<circle cx="499.80" cy="274.70" r="2.1" fill="#fff" stroke="#111" stroke-width="0.9"/>
<circle cx="511.70" cy="274.30" r="2.1" fill="#fff" stroke="#111" stroke-width="0.9"/>
<text x="454.65" y="271.63" font-size="16.5" font-weight="bold" text-anchor="middle" fill="#111" letter-spacing="0.3">***</text>
<text x="506.35" y="258.53" font-size="16.5" font-weight="bold" text-anchor="middle" fill="#111" letter-spacing="0.3">*</text>
<rect x="429.50" y="196.40" width="16.90" height="7.40" fill="#d9d9d9" stroke="#111" stroke-width="0.8"/>
<rect x="429.50" y="208.00" width="16.90" height="7.40" fill="#de7cf0" stroke="#111" stroke-width="0.8"/>
<text x="449.60" y="203.77" font-size="10.2" text-anchor="start" fill="#222">Con</text>
<text x="449.60" y="215.37" font-size="10.2" text-anchor="start" fill="#222">piR48444-OE</text>
<text x="443.80" y="317.87" font-size="10.2" text-anchor="middle" fill="#222">METTL7A</text>
<text x="496.50" y="317.87" font-size="10.2" text-anchor="middle" fill="#222">BMP2</text>
<text x="393.50" y="255.47" font-size="10.2" text-anchor="middle" fill="#222" transform="rotate(-90 393.50 251.80)">Protein expression</text>
<line x1="574.40" y1="201.00" x2="574.40" y2="305.60" stroke="#000" stroke-width="1.2"/>
<line x1="574.40" y1="305.60" x2="663.10" y2="305.60" stroke="#000" stroke-width="1.2"/>
<line x1="570.00" y1="305.60" x2="574.40" y2="305.60" stroke="#111" stroke-width="1.0"/>
<text x="568.80" y="309.20" font-size="10.0" text-anchor="end" fill="#222">0</text>
<line x1="570.00" y1="279.45" x2="574.40" y2="279.45" stroke="#111" stroke-width="1.0"/>
<text x="568.80" y="283.05" font-size="10.0" text-anchor="end" fill="#222">2</text>
<line x1="570.00" y1="253.30" x2="574.40" y2="253.30" stroke="#111" stroke-width="1.0"/>
<text x="568.80" y="256.90" font-size="10.0" text-anchor="end" fill="#222">4</text>
<line x1="570.00" y1="227.15" x2="574.40" y2="227.15" stroke="#111" stroke-width="1.0"/>
<text x="568.80" y="230.75" font-size="10.0" text-anchor="end" fill="#222">6</text>
<line x1="570.00" y1="201.00" x2="574.40" y2="201.00" stroke="#111" stroke-width="1.0"/>
<text x="568.80" y="204.60" font-size="10.0" text-anchor="end" fill="#222">8</text>
<rect x="578.80" y="292.92" width="14.90" height="12.68" fill="#d9d9d9" stroke="#111" stroke-width="0.8"/>
<rect x="595.90" y="251.99" width="14.60" height="53.61" fill="#5c9cf0" stroke="#111" stroke-width="0.8"/>
<rect x="627.00" y="292.92" width="14.60" height="12.68" fill="#d9d9d9" stroke="#111" stroke-width="0.8"/>
<rect x="643.80" y="284.16" width="14.20" height="21.44" fill="#5c9cf0" stroke="#111" stroke-width="0.8"/>
<line x1="603.30" y1="252.40" x2="603.30" y2="237.10" stroke="#111" stroke-width="0.8"/>
<line x1="600.10" y1="237.10" x2="606.50" y2="237.10" stroke="#111" stroke-width="0.8"/>
<line x1="634.30" y1="292.90" x2="634.30" y2="289.60" stroke="#111" stroke-width="0.8"/>
<line x1="631.10" y1="289.60" x2="637.50" y2="289.60" stroke="#111" stroke-width="0.8"/>
<line x1="650.90" y1="284.20" x2="650.90" y2="279.80" stroke="#111" stroke-width="0.8"/>
<line x1="647.70" y1="279.80" x2="654.10" y2="279.80" stroke="#111" stroke-width="0.8"/>
<circle cx="581.00" cy="292.90" r="2.1" fill="#fff" stroke="#111" stroke-width="0.9"/>
<circle cx="586.50" cy="292.50" r="2.1" fill="#fff" stroke="#111" stroke-width="0.9"/>
<circle cx="591.50" cy="292.90" r="2.1" fill="#fff" stroke="#111" stroke-width="0.9"/>
<circle cx="603.50" cy="237.10" r="2.1" fill="#fff" stroke="#111" stroke-width="0.9"/>
<circle cx="603.50" cy="253.50" r="2.1" fill="#fff" stroke="#111" stroke-width="0.9"/>
<circle cx="603.50" cy="265.10" r="2.1" fill="#fff" stroke="#111" stroke-width="0.9"/>
<circle cx="629.20" cy="290.30" r="2.1" fill="#fff" stroke="#111" stroke-width="0.9"/>
<circle cx="634.60" cy="296.90" r="2.1" fill="#fff" stroke="#111" stroke-width="0.9"/>
<circle cx="639.70" cy="291.20" r="2.1" fill="#fff" stroke="#111" stroke-width="0.9"/>
<circle cx="645.60" cy="280.40" r="2.1" fill="#fff" stroke="#111" stroke-width="0.9"/>
<circle cx="651.00" cy="288.10" r="2.1" fill="#fff" stroke="#111" stroke-width="0.9"/>
<circle cx="656.10" cy="280.40" r="2.1" fill="#fff" stroke="#111" stroke-width="0.9"/>
<text x="603.35" y="237.73" font-size="16.5" font-weight="bold" text-anchor="middle" fill="#111" letter-spacing="0.3">**</text>
<text x="650.55" y="280.53" font-size="16.5" font-weight="bold" text-anchor="middle" fill="#111" letter-spacing="0.3">*</text>
<rect x="584.30" y="196.10" width="14.20" height="7.00" fill="#d9d9d9" stroke="#111" stroke-width="0.8"/>
<rect x="584.30" y="206.40" width="14.20" height="7.20" fill="#5c9cf0" stroke="#111" stroke-width="0.8"/>
<text x="601.80" y="203.27" font-size="10.2" text-anchor="start" fill="#222">Con</text>
<text x="601.80" y="213.67" font-size="10.2" text-anchor="start" fill="#222">piR48444-KD</text>
<text x="594.00" y="317.87" font-size="10.2" text-anchor="middle" fill="#222">METTL7A</text>
<text x="643.30" y="317.87" font-size="10.2" text-anchor="middle" fill="#222">BMP2</text>
<text x="555.80" y="255.47" font-size="10.2" text-anchor="middle" fill="#222" transform="rotate(-90 555.80 251.80)">Protein expression</text>
<text x="8.70" y="520.22" font-size="12" font-weight="bold" text-anchor="start" fill="#000">H</text>
<line x1="128.40" y1="521.10" x2="128.40" y2="596.50" stroke="#000" stroke-width="1.2"/>
<line x1="128.40" y1="596.50" x2="216.00" y2="596.50" stroke="#000" stroke-width="1.2"/>
<line x1="128.40" y1="596.50" x2="128.40" y2="599.00" stroke="#111" stroke-width="1.0"/>
<text x="128.40" y="609.56" font-size="9.6" font-weight="bold" text-anchor="middle" fill="#111">0.0</text>
<line x1="157.70" y1="596.50" x2="157.70" y2="599.00" stroke="#111" stroke-width="1.0"/>
<text x="157.70" y="609.56" font-size="9.6" font-weight="bold" text-anchor="middle" fill="#111">0.5</text>
<line x1="187.10" y1="596.50" x2="187.10" y2="599.00" stroke="#111" stroke-width="1.0"/>
<text x="187.10" y="609.56" font-size="9.6" font-weight="bold" text-anchor="middle" fill="#111">1.0</text>
<line x1="216.00" y1="596.50" x2="216.00" y2="599.00" stroke="#111" stroke-width="1.0"/>
<text x="216.00" y="609.56" font-size="9.6" font-weight="bold" text-anchor="middle" fill="#111">1.5</text>
<rect x="128.40" y="526.40" width="34.50" height="18.40" fill="#b88d52" stroke="none" stroke-width="1"/>
<rect x="128.40" y="550.90" width="11.00" height="18.10" fill="#3fdc1e" stroke="none" stroke-width="1"/>
<rect x="128.40" y="574.90" width="51.30" height="18.10" fill="#67a6f8" stroke="none" stroke-width="1"/>
<text x="125.3" y="539.23" font-size="9.8" font-weight="bold" text-anchor="end" fill="#111">piR48444+Mu-<tspan font-style="italic">METTL7A</tspan></text>
<text x="125.3" y="563.43" font-size="9.8" font-weight="bold" text-anchor="end" fill="#111">piR48444+Wt-<tspan font-style="italic">METTL7A</tspan></text>
<text x="125.3" y="587.23" font-size="9.8" font-weight="bold" text-anchor="end" fill="#111">NC+Wt-<tspan font-style="italic">METTL7A</tspan></text>
<text x="113.50" y="609.56" font-size="9.6" font-weight="bold" text-anchor="end" fill="#111">Luciferase activity</text>
<line x1="355.40" y1="522.00" x2="355.40" y2="597.70" stroke="#000" stroke-width="1.2"/>
<line x1="355.40" y1="597.70" x2="442.60" y2="597.70" stroke="#000" stroke-width="1.2"/>
<line x1="355.40" y1="597.70" x2="355.40" y2="600.20" stroke="#111" stroke-width="1.0"/>
<text x="355.40" y="609.96" font-size="9.6" font-weight="bold" text-anchor="middle" fill="#111">0.0</text>
<line x1="377.20" y1="597.70" x2="377.20" y2="600.20" stroke="#111" stroke-width="1.0"/>
<text x="377.20" y="609.96" font-size="9.6" font-weight="bold" text-anchor="middle" fill="#111">0.2</text>
<line x1="399.00" y1="597.70" x2="399.00" y2="600.20" stroke="#111" stroke-width="1.0"/>
<text x="399.00" y="609.96" font-size="9.6" font-weight="bold" text-anchor="middle" fill="#111">0.4</text>
<line x1="420.80" y1="597.70" x2="420.80" y2="600.20" stroke="#111" stroke-width="1.0"/>
<text x="420.80" y="609.96" font-size="9.6" font-weight="bold" text-anchor="middle" fill="#111">0.6</text>
<line x1="442.60" y1="597.70" x2="442.60" y2="600.20" stroke="#111" stroke-width="1.0"/>
<text x="442.60" y="609.96" font-size="9.6" font-weight="bold" text-anchor="middle" fill="#111">0.8</text>
<rect x="355.40" y="526.90" width="79.20" height="18.20" fill="#b88d52" stroke="none" stroke-width="1"/>
<rect x="355.40" y="550.90" width="78.60" height="18.40" fill="#3fdc1e" stroke="none" stroke-width="1"/>
<rect x="355.40" y="575.10" width="82.70" height="18.70" fill="#67a6f8" stroke="none" stroke-width="1"/>
<text x="351.9" y="539.53" font-size="9.8" font-weight="bold" text-anchor="end" fill="#111">piR48444+Mu-<tspan font-style="italic">BMP2</tspan></text>
<text x="351.9" y="564.03" font-size="9.8" font-weight="bold" text-anchor="end" fill="#111">piR48444+Wt-<tspan font-style="italic">BMP2</tspan></text>
<text x="351.9" y="588.03" font-size="9.8" font-weight="bold" text-anchor="end" fill="#111">NC+Wt-<tspan font-style="italic">BMP2</tspan></text>
<text x="340.50" y="609.96" font-size="9.6" font-weight="bold" text-anchor="end" fill="#111">Luciferase activity</text>
<circle cx="150.00" cy="535.70" r="1.3" fill="#fff" stroke="none" stroke-width="0"/>
<circle cx="165.70" cy="531.60" r="1.9" fill="none" stroke="#d9c5a0" stroke-width="0.8"/>
<circle cx="165.70" cy="539.50" r="1.9" fill="none" stroke="#d9c5a0" stroke-width="0.8"/>
<circle cx="170.40" cy="535.70" r="1.9" fill="none" stroke="#d9c5a0" stroke-width="0.8"/>
<line x1="162.90" y1="535.70" x2="172.20" y2="535.70" stroke="#d9c5a0" stroke-width="0.7"/>
<line x1="172.20" y1="532.50" x2="172.20" y2="539.00" stroke="#d9c5a0" stroke-width="0.7"/>
<circle cx="138.90" cy="552.20" r="1.4" fill="#fff" stroke="#3fdc1e" stroke-width="0.6"/>
<circle cx="137.70" cy="557.10" r="1.4" fill="#fff" stroke="#3fdc1e" stroke-width="0.6"/>
<circle cx="140.20" cy="562.00" r="1.4" fill="#fff" stroke="#3fdc1e" stroke-width="0.6"/>
<circle cx="137.70" cy="567.10" r="1.4" fill="#fff" stroke="#3fdc1e" stroke-width="0.6"/>
<circle cx="158.70" cy="583.90" r="1.3" fill="#fff" stroke="none" stroke-width="0"/>
<circle cx="171.30" cy="583.90" r="1.3" fill="#fff" stroke="none" stroke-width="0"/>
<line x1="179.70" y1="583.90" x2="199.70" y2="583.90" stroke="#8ab8f0" stroke-width="0.7"/>
<line x1="199.70" y1="580.20" x2="199.70" y2="587.70" stroke="#8ab8f0" stroke-width="0.9"/>
<circle cx="184.10" cy="583.90" r="1.9" fill="none" stroke="#8ab8f0" stroke-width="0.8"/>
<circle cx="204.60" cy="583.90" r="1.9" fill="none" stroke="#8ab8f0" stroke-width="0.8"/>
<polyline points="175.7,535.7 181.5,535.7 181.5,560.2 175.7,560.2" fill="none" stroke="#222" stroke-width="0.9"/>
<polyline points="207.8,560.2 213.7,560.2 213.7,583.9 207.8,583.9" fill="none" stroke="#222" stroke-width="0.9"/>
<text x="187.50" y="552.73" font-size="15.5" font-weight="bold" text-anchor="middle" fill="#222">*</text>
<text x="187.50" y="559.83" font-size="15.5" font-weight="bold" text-anchor="middle" fill="#222">*</text>
<text x="219.00" y="576.43" font-size="15.5" font-weight="bold" text-anchor="middle" fill="#222">*</text>
<text x="219.00" y="583.63" font-size="15.5" font-weight="bold" text-anchor="middle" fill="#222">*</text>
<line x1="434.60" y1="528.00" x2="434.60" y2="543.50" stroke="#d8c4a0" stroke-width="0.8"/>
<line x1="436.50" y1="552.00" x2="436.50" y2="567.50" stroke="#8ee070" stroke-width="0.8"/>
<line x1="438.50" y1="580.00" x2="438.50" y2="589.00" stroke="#a8c8f4" stroke-width="0.8"/>
<line x1="438.10" y1="584.50" x2="442.50" y2="584.50" stroke="#a8c8f4" stroke-width="0.8"/>
<circle cx="434.60" cy="528.10" r="1.7" fill="#fff" stroke="#d8c4a0" stroke-width="0.7"/>
<circle cx="435.00" cy="535.70" r="1.7" fill="#fff" stroke="#d8c4a0" stroke-width="0.7"/>
<circle cx="435.00" cy="543.00" r="1.7" fill="#fff" stroke="#d8c4a0" stroke-width="0.7"/>
<circle cx="431.40" cy="543.00" r="1.7" fill="#fff" stroke="#d8c4a0" stroke-width="0.7"/>
<circle cx="433.70" cy="552.30" r="1.7" fill="#fff" stroke="#8ee070" stroke-width="0.7"/>
<circle cx="436.00" cy="557.00" r="1.7" fill="#fff" stroke="#8ee070" stroke-width="0.7"/>
<circle cx="436.00" cy="562.30" r="1.7" fill="#fff" stroke="#8ee070" stroke-width="0.7"/>
<circle cx="430.70" cy="567.20" r="1.7" fill="#fff" stroke="#8ee070" stroke-width="0.7"/>
<circle cx="436.40" cy="567.20" r="1.7" fill="#fff" stroke="#8ee070" stroke-width="0.7"/>
<circle cx="436.00" cy="580.30" r="1.7" fill="#fff" stroke="#a8c8f4" stroke-width="0.7"/>
<circle cx="442.50" cy="580.30" r="1.7" fill="#fff" stroke="#a8c8f4" stroke-width="0.7"/>
<circle cx="434.60" cy="588.20" r="1.7" fill="#fff" stroke="#a8c8f4" stroke-width="0.7"/>
<circle cx="439.00" cy="588.20" r="1.7" fill="#fff" stroke="#a8c8f4" stroke-width="0.7"/>
<text x="7.70" y="345.52" font-size="12" font-weight="bold" text-anchor="start" fill="#000">G</text>
<defs><filter id="spB" x="0" y="0" width="100%" height="100%" color-interpolation-filters="sRGB">
  <feTurbulence type="fractalNoise" baseFrequency="1.5" numOctaves="1" seed="4" result="n"/>
  <feColorMatrix in="n" type="matrix" values="0 0 0 0 0.74  0 0 0 0 0.6  0 0 0 0 0.47  3.850 0 0 0 -2.233" result="d"/>
  <feGaussianBlur in="d" stdDeviation="0.35" result="d2"/>
  <feComposite in="d2" in2="SourceGraphic" operator="in"/>
</filter><filter id="spB2" x="0" y="0" width="100%" height="100%" color-interpolation-filters="sRGB">
  <feTurbulence type="fractalNoise" baseFrequency="1.5" numOctaves="1" seed="9" result="n"/>
  <feColorMatrix in="n" type="matrix" values="0 0 0 0 0.7  0 0 0 0 0.55  0 0 0 0 0.42  3.850 0 0 0 -2.156" result="d"/>
  <feGaussianBlur in="d" stdDeviation="0.35" result="d2"/>
  <feComposite in="d2" in2="SourceGraphic" operator="in"/>
</filter><filter id="spU" x="0" y="0" width="100%" height="100%" color-interpolation-filters="sRGB">
  <feTurbulence type="fractalNoise" baseFrequency="1.5" numOctaves="1" seed="11" result="n"/>
  <feColorMatrix in="n" type="matrix" values="0 0 0 0 0.6  0 0 0 0 0.58  0 0 0 0 0.8  3.850 0 0 0 -2.387" result="d"/>
  <feGaussianBlur in="d" stdDeviation="0.35" result="d2"/>
  <feComposite in="d2" in2="SourceGraphic" operator="in"/>
</filter><filter id="spU2" x="0" y="0" width="100%" height="100%" color-interpolation-filters="sRGB">
  <feTurbulence type="fractalNoise" baseFrequency="1.5" numOctaves="1" seed="21" result="n"/>
  <feColorMatrix in="n" type="matrix" values="0 0 0 0 0.55  0 0 0 0 0.53  0 0 0 0 0.76  3.850 0 0 0 -2.233" result="d"/>
  <feGaussianBlur in="d" stdDeviation="0.35" result="d2"/>
  <feComposite in="d2" in2="SourceGraphic" operator="in"/>
</filter><filter id="spD" x="0" y="0" width="100%" height="100%" color-interpolation-filters="sRGB">
  <feTurbulence type="fractalNoise" baseFrequency="1.5" numOctaves="1" seed="7" result="n"/>
  <feColorMatrix in="n" type="matrix" values="0 0 0 0 0.66  0 0 0 0 0.5  0 0 0 0 0.37  3.300 0 0 0 -1.782" result="d"/>
  <feGaussianBlur in="d" stdDeviation="0.35" result="d2"/>
  <feComposite in="d2" in2="SourceGraphic" operator="in"/>
</filter><filter id="soft" x="-10%" y="-10%" width="120%" height="120%"><feGaussianBlur stdDeviation="0.7"/></filter><filter id="soft2" x="-10%" y="-10%" width="120%" height="120%"><feGaussianBlur stdDeviation="1.5"/></filter></defs>
<clipPath id="gc1"><rect x="25.5" y="337.5" width="147.50" height="79.70"/></clipPath>
<g clip-path="url(#gc1)"><rect x="25.5" y="337.5" width="147.50" height="79.70" fill="#fcfcfc"/>
<path d="M25,361 C45,359 75,359 95,358 C110,356 125,353 150,353 L174,354 L174,372 C150,371 132,371 110,370 C95,371 60,368 25,364 Z" fill="#f3eee7" opacity="1.0" filter="url(#soft)"/><path d="M25,361 C45,359 75,359 95,358 C110,356 125,353 150,353 L174,354 L174,372 C150,371 132,371 110,370 C95,371 60,368 25,364 Z" fill="#000" filter="url(#spB)"/><path d="M25,363 C50,366 80,369 100,371 C120,371 150,371 174,372 L174,387 C160,388 140,387 132,386 C115,382 100,383 90,383 C70,381 45,377 25,372 Z" fill="#f6f5f5" opacity="1.0" filter="url(#soft)"/><path d="M25,363 C50,366 80,369 100,371 C120,371 150,371 174,372 L174,387 C160,388 140,387 132,386 C115,382 100,383 90,383 C70,381 45,377 25,372 Z" fill="#000" filter="url(#spB)"/><path d="M25,363 C50,366 80,369 100,371 C120,371 150,371 174,372 L174,387 C160,388 140,387 132,386 C115,382 100,383 90,383 C70,381 45,377 25,372 Z" fill="#000" filter="url(#spU)"/><path d="M57,378 C70,379 85,381 95,382 C100,381 104,378 110,377.5 C118,377 125,377.5 133,378" fill="none" stroke="#6e5448" stroke-width="1.1" opacity="0.9"/><path d="M84,382.5 C90,384 96,384.5 102,383.5 C106,382.5 110,381 116,380.5" fill="none" stroke="#7a6a80" stroke-width="0.9" opacity="0.8"/><path d="M60,380.5 C66,382 72,383 78,384" fill="none" stroke="#a08878" stroke-width="0.8" opacity="0.7"/><path d="M25,375 C35,368 40,364 45,362" fill="none" stroke="#d8cbb8" stroke-width="0.6"/>
</g>
<rect x="25.50" y="337.50" width="147.50" height="79.70" fill="none" stroke="#9a9a9a" stroke-width="0.9"/>
<clipPath id="gc2"><rect x="185.8" y="337.5" width="148.10" height="80.70"/></clipPath>
<g clip-path="url(#gc2)"><rect x="185.8" y="337.5" width="148.10" height="80.70" fill="#fcfcfc"/>
<path d="M186,366 C210,365 235,362 255,358 C275,355 300,357 315,362 C325,366 330,368 334,369 L334,374 C300,372 260,370 186,369 Z" fill="#f6f3ef" opacity="1.0" filter="url(#soft)"/><path d="M186,366 C210,365 235,362 255,358 C275,355 300,357 315,362 C325,366 330,368 334,369 L334,374 C300,372 260,370 186,369 Z" fill="#000" filter="url(#spB)"/><path d="M186,367 C230,369 270,371 334,373 L334,397 C325,394 318,391 300,389 C280,386 250,385 230,386 C210,390 195,395 186,399 Z" fill="#efeae4" opacity="1.0" filter="url(#soft)"/><path d="M186,367 C230,369 270,371 334,373 L334,397 C325,394 318,391 300,389 C280,386 250,385 230,386 C210,390 195,395 186,399 Z" fill="#000" filter="url(#spB)"/><path d="M186,367 C230,369 270,371 334,373 L334,397 C325,394 318,391 300,389 C280,386 250,385 230,386 C210,390 195,395 186,399 Z" fill="#000" filter="url(#spU)"/><path d="M186,375 C200,374 215,375 230,378 C228,384 222,388 205,392 C196,395 190,397 186,398 Z" fill="#e0e0f0" opacity="1.0" filter="url(#soft)"/><path d="M186,375 C200,374 215,375 230,378 C228,384 222,388 205,392 C196,395 190,397 186,398 Z" fill="#000" filter="url(#spU2)"/><path d="M189,384 L199,383.5 M203,382 L208,382 M214,384 L219,383.6" stroke="#7878c4" stroke-width="1.5" opacity="0.8"/><ellipse cx="228" cy="373.5" rx="3" ry="2" fill="#fff" stroke="#c9b7a0" stroke-width="0.5"/><ellipse cx="252" cy="371" rx="6" ry="3" fill="#d8c8bc" opacity="0.7" filter="url(#soft)"/><path d="M282,377 L324,377 L324,391 L282,390 Z" fill="#eeebea" opacity="1.0" filter="url(#soft)"/><path d="M282,377 L324,377 L324,391 L282,390 Z" fill="#000" filter="url(#spU)"/>
</g>
<rect x="185.80" y="337.50" width="148.10" height="80.70" fill="none" stroke="#9a9a9a" stroke-width="0.9"/>
<clipPath id="gc3"><rect x="358.6" y="337.5" width="148.90" height="79.90"/></clipPath>
<g clip-path="url(#gc3)"><rect x="358.6" y="337.5" width="148.90" height="79.90" fill="#f9f7f2"/>
<path d="M359,364 C380,361 400,357 425,354 C450,351 480,352 508,356 L508,386 C495,388 480,383 466,381 C445,381 430,381 415,381 C395,379 375,374 359,371 Z" fill="#f0ede8" opacity="1.0" filter="url(#soft)"/><path d="M359,364 C380,361 400,357 425,354 C450,351 480,352 508,356 L508,386 C495,388 480,383 466,381 C445,381 430,381 415,381 C395,379 375,374 359,371 Z" fill="#000" filter="url(#spB)"/><path d="M359,364 C380,361 400,357 425,354 C450,351 480,352 508,356 L508,386 C495,388 480,383 466,381 C445,381 430,381 415,381 C395,379 375,374 359,371 Z" fill="#000" filter="url(#spU)"/><path d="M420,356 C450,352 480,353 508,357 L508,372 C480,370 450,368 420,366 Z" fill="#ece6dc" opacity="1.0" filter="url(#soft)"/><path d="M420,356 C450,352 480,353 508,357 L508,372 C480,370 450,368 420,366 Z" fill="#000" filter="url(#spB)"/><path d="M380,377 C392,380 405,382 420,381 C432,380 442,380 450,381" fill="none" stroke="#7a4228" stroke-width="1.8" opacity="0.85" filter="url(#soft)"/><path d="M372,374 C380,378 388,382 396,384" fill="none" stroke="#9a6a50" stroke-width="0.8" opacity="0.8"/><path d="M466,380 L507,381 L507,396 L466,395 Z" fill="#f0edec" opacity="1.0" filter="url(#soft)"/><path d="M466,380 L507,381 L507,396 L466,395 Z" fill="#000" filter="url(#spU)"/>
</g>
<rect x="358.60" y="337.50" width="148.90" height="79.90" fill="none" stroke="#9a9a9a" stroke-width="0.9"/>
<clipPath id="gc4"><rect x="518.6" y="337.3" width="146.10" height="79.70"/></clipPath>
<g clip-path="url(#gc4)"><rect x="518.6" y="337.3" width="146.10" height="79.70" fill="#f7f2e8"/>
<path d="M519,358 C540,353 560,351 590,353 C610,355 640,355 665,357 L665,370 C630,368 580,366 519,366 Z" fill="#f1eadf" opacity="1.0" filter="url(#soft)"/><path d="M519,358 C540,353 560,351 590,353 C610,355 640,355 665,357 L665,370 C630,368 580,366 519,366 Z" fill="#000" filter="url(#spB)"/><path d="M519,366 C560,366 600,368 665,370 L665,392 C650,393 630,391 610,386 C590,383 570,383 550,384 C535,386 525,388 519,390 Z" fill="#ede4d8" opacity="1.0" filter="url(#soft)"/><path d="M519,366 C560,366 600,368 665,370 L665,392 C650,393 630,391 610,386 C590,383 570,383 550,384 C535,386 525,388 519,390 Z" fill="#000" filter="url(#spB)"/><path d="M519,366 C560,366 600,368 665,370 L665,392 C650,393 630,391 610,386 C590,383 570,383 550,384 C535,386 525,388 519,390 Z" fill="#000" filter="url(#spB2)"/><path d="M558,368 C580,366 600,368 612,371 C610,379 600,383 585,384 C570,382 562,376 558,368 Z" fill="#e2d2c0" opacity="1.0" filter="url(#soft)"/><path d="M558,368 C580,366 600,368 612,371 C610,379 600,383 585,384 C570,382 562,376 558,368 Z" fill="#000" filter="url(#spB2)"/><path d="M519,369 C535,368 550,369 562,373 C558,380 545,384 530,386 C524,387 520,388 519,388 Z" fill="#e0ddec" opacity="1.0" filter="url(#soft)"/><path d="M519,369 C535,368 550,369 562,373 C558,380 545,384 530,386 C524,387 520,388 519,388 Z" fill="#000" filter="url(#spU)"/><path d="M522,378 L530,377 M533,375 L540,375" stroke="#6a6ac0" stroke-width="1.5" opacity="0.8"/><path d="M611,374 L651,374 L651,388 L611,387 Z" fill="#ebe6e6" opacity="1.0" filter="url(#soft)"/><path d="M611,374 L651,374 L651,388 L611,387 Z" fill="#000" filter="url(#spU)"/>
</g>
<rect x="518.60" y="337.30" width="146.10" height="79.70" fill="none" stroke="#9a9a9a" stroke-width="0.9"/>
<clipPath id="gc5"><rect x="25.5" y="424.0" width="147.40" height="79.30"/></clipPath>
<g clip-path="url(#gc5)"><rect x="25.5" y="424.0" width="147.40" height="79.30" fill="#fefefe"/>
<path d="M25,424 L174,424 L174,504 L140,504 C120,500 100,492 90,482 C82,472 76,462 68,455 C60,450 45,452 25,456 L25,448 C45,446 60,444 75,437 C90,431 110,429 130,428 C110,430 80,432 60,434 C45,436 35,437 25,438 Z" fill="#f7f6f9" opacity="1.0" filter="url(#soft)"/><path d="M25,424 L174,424 L174,504 L140,504 C120,500 100,492 90,482 C82,472 76,462 68,455 C60,450 45,452 25,456 L25,448 C45,446 60,444 75,437 C90,431 110,429 130,428 C110,430 80,432 60,434 C45,436 35,437 25,438 Z" fill="#000" filter="url(#spU)"/><path d="M60,440 C80,436 100,438 120,446 C110,460 105,475 110,490 C100,488 92,480 86,470 C80,458 72,448 60,440 Z" fill="#f4f0ee" opacity="1.0" filter="url(#soft)"/><path d="M60,440 C80,436 100,438 120,446 C110,460 105,475 110,490 C100,488 92,480 86,470 C80,458 72,448 60,440 Z" fill="#000" filter="url(#spB)"/><path d="M25,424 L135,424 C125,427 110,429 90,431 C70,433 45,435 25,437 Z" fill="#ecdfcc" opacity="1.0" filter="url(#soft)"/><path d="M25,424 L135,424 C125,427 110,429 90,431 C70,433 45,435 25,437 Z" fill="#000" filter="url(#spB2)"/><path d="M95,432 C110,432 125,436 120,440 C108,442 96,445 88,448 C85,440 88,434 95,432 Z" fill="#f0e8de" opacity="1.0" filter="url(#soft)"/><path d="M95,432 C110,432 125,436 120,440 C108,442 96,445 88,448 C85,440 88,434 95,432 Z" fill="#000" filter="url(#spB2)"/><path d="M25,457 C35,453 48,451 60,451 C68,453 72,460 76,468 C79,474 82,480 86,485" fill="none" stroke="#8a5a3a" stroke-width="1.3" opacity="0.85" filter="url(#soft)"/><path d="M34,462 C40,466 46,466 50,464" fill="none" stroke="#8a5a3a" stroke-width="1.6" opacity="0.8" filter="url(#soft)"/><ellipse cx="159" cy="453" rx="3.6" ry="3.2" fill="#6f6aa8" opacity="0.75" filter="url(#soft)"/><ellipse cx="164" cy="446" rx="3" ry="1.5" fill="#8c88bb" opacity="0.6" filter="url(#soft)"/>
</g>
<rect x="25.50" y="424.00" width="147.40" height="79.30" fill="none" stroke="#9a9a9a" stroke-width="0.9"/>
<clipPath id="gc6"><rect x="185.8" y="424.3" width="148.10" height="79.50"/></clipPath>
<g clip-path="url(#gc6)"><rect x="185.8" y="424.3" width="148.10" height="79.50" fill="#fdfcfb"/>
<path d="M186,424 L334,424 L334,504 L292,504 C275,498 258,490 240,480 C222,472 205,467 186,464 Z" fill="#eee8e1" opacity="1.0" filter="url(#soft)"/><path d="M186,424 L334,424 L334,504 L292,504 C275,498 258,490 240,480 C222,472 205,467 186,464 Z" fill="#000" filter="url(#spB)"/><path d="M186,424 L334,424 L334,504 L292,504 C275,498 258,490 240,480 C222,472 205,467 186,464 Z" fill="#000" filter="url(#spU)"/><path d="M186,424 L334,424 L334,504 L292,504 C275,498 258,490 240,480 C222,472 205,467 186,464 Z" fill="#000" filter="url(#spU2)"/><path d="M186,430 C200,432 215,440 228,452 C238,462 245,470 250,478 C235,474 215,468 186,462 Z" fill="#e8dccd" opacity="1.0" filter="url(#soft)"/><path d="M186,430 C200,432 215,440 228,452 C238,462 245,470 250,478 C235,474 215,468 186,462 Z" fill="#000" filter="url(#spB2)"/><path d="M214,435 C235,432 262,434 282,439 C280,450 268,460 258,466 C246,465 239,457 231,448 C223,442 218,439 214,435 Z" fill="#f1eff3" opacity="1.0" filter="url(#soft)"/><path d="M214,435 C235,432 262,434 282,439 C280,450 268,460 258,466 C246,465 239,457 231,448 C223,442 218,439 214,435 Z" fill="#000" filter="url(#spU)"/><path d="M214,435 C235,432 262,434 282,439 C280,450 268,460 258,466 C246,465 239,457 231,448 C223,442 218,439 214,435 Z" fill="#000" filter="url(#spB)"/><path d="M292,436 C310,434 325,435 334,436 L334,458 C320,460 306,456 298,450 C294,444 292,440 292,436 Z" fill="#f1eff3" opacity="1.0" filter="url(#soft)"/><path d="M292,436 C310,434 325,435 334,436 L334,458 C320,460 306,456 298,450 C294,444 292,440 292,436 Z" fill="#000" filter="url(#spU)"/><path d="M292,436 C310,434 325,435 334,436 L334,458 C320,460 306,456 298,450 C294,444 292,440 292,436 Z" fill="#000" filter="url(#spB)"/><path d="M255,468 C263,465 274,465 280,472 C282,482 278,490 270,492 C263,488 257,480 255,468 Z" fill="#f1eff3" opacity="1.0" filter="url(#soft)"/><path d="M255,468 C263,465 274,465 280,472 C282,482 278,490 270,492 C263,488 257,480 255,468 Z" fill="#000" filter="url(#spU)"/><path d="M292,474 C301,470 314,472 323,478 C325,488 320,498 310,500 C299,495 294,485 292,474 Z" fill="#f1eff3" opacity="1.0" filter="url(#soft)"/><path d="M292,474 C301,470 314,472 323,478 C325,488 320,498 310,500 C299,495 294,485 292,474 Z" fill="#000" filter="url(#spU)"/><path d="M292,474 C301,470 314,472 323,478 C325,488 320,498 310,500 C299,495 294,485 292,474 Z" fill="#000" filter="url(#spB)"/><path d="M186,424 L334,424 L334,431 C300,430 260,432 240,430 C220,429 200,431 186,432 Z" fill="#dcc4a6" opacity="1.0" filter="url(#soft)"/><path d="M186,424 L334,424 L334,431 C300,430 260,432 240,430 C220,429 200,431 186,432 Z" fill="#000" filter="url(#spD)"/><path d="M240,478 C247,481 253,484 257,486" stroke="#5b3a2a" stroke-width="1.2" opacity="0.9"/>
</g>
<rect x="185.80" y="424.30" width="148.10" height="79.50" fill="none" stroke="#262626" stroke-width="1.1"/>
<clipPath id="gc7"><rect x="358.6" y="426.1" width="148.60" height="78.80"/></clipPath>
<g clip-path="url(#gc7)"><rect x="358.6" y="426.1" width="148.60" height="78.80" fill="#fcfaf5"/>
<path d="M385,426 L508,426 L508,505 L470,505 C450,501 432,496 418,489 C405,480 398,470 392,460 C385,450 380,440 385,426 Z" fill="#f2ece4" opacity="1.0" filter="url(#soft)"/><path d="M385,426 L508,426 L508,505 L470,505 C450,501 432,496 418,489 C405,480 398,470 392,460 C385,450 380,440 385,426 Z" fill="#000" filter="url(#spB)"/><path d="M385,426 L508,426 L508,505 L470,505 C450,501 432,496 418,489 C405,480 398,470 392,460 C385,450 380,440 385,426 Z" fill="#000" filter="url(#spU)"/><path d="M359,426 L390,426 C384,436 386,446 392,456 C380,452 370,448 359,446 Z" fill="#f7f3ee" opacity="1.0" filter="url(#soft)"/><path d="M359,426 L390,426 C384,436 386,446 392,456 C380,452 370,448 359,446 Z" fill="#000" filter="url(#spB)"/><path d="M450,428 L508,428 L508,490 C495,492 482,480 472,466 C462,452 455,440 450,428 Z" fill="#f5efe6" opacity="1.0" filter="url(#soft)"/><path d="M450,428 L508,428 L508,490 C495,492 482,480 472,466 C462,452 455,440 450,428 Z" fill="#000" filter="url(#spB)"/><path d="M372,432 C390,430 410,432 425,440 C430,455 420,468 405,470 C392,462 380,448 372,432 Z" fill="#efebee" opacity="1.0" filter="url(#soft)"/><path d="M372,432 C390,430 410,432 425,440 C430,455 420,468 405,470 C392,462 380,448 372,432 Z" fill="#000" filter="url(#spU)"/><path d="M372,432 C390,430 410,432 425,440 C430,455 420,468 405,470 C392,462 380,448 372,432 Z" fill="#000" filter="url(#spU2)"/><ellipse cx="442" cy="470" rx="12.5" ry="12" fill="#f0e8de" stroke="#e2d3c0" stroke-width="1.2"/><ellipse cx="443" cy="472" rx="6" ry="5.5" fill="#e6d6c2" opacity="0.85" filter="url(#soft)"/><path d="M359,445 C368,445 378,446 388,448 C396,450 401,454 404,458" fill="none" stroke="#6a3a22" stroke-width="2.8" opacity="0.9" filter="url(#soft)"/><path d="M360,449 C366,450 372,450 376,451" fill="none" stroke="#7a4a30" stroke-width="1.4" opacity="0.8"/><ellipse cx="382" cy="452.5" rx="2.6" ry="1.6" fill="#6a3a22" opacity="0.85" filter="url(#soft)"/><path d="M359,434 L364,435" stroke="#6e3e26" stroke-width="1.6" opacity="0.8"/><path d="M413,487 C418,489 422,491 426,492" fill="none" stroke="#8a5a3c" stroke-width="1.0" opacity="0.7"/><path d="M460,500 C464,501 468,502 472,502" fill="none" stroke="#7a4a30" stroke-width="1.4" opacity="0.8"/>
</g>
<rect x="358.60" y="426.10" width="148.60" height="78.80" fill="none" stroke="#9a9a9a" stroke-width="0.9"/>
<clipPath id="gc8"><rect x="519.8" y="426.1" width="146.00" height="79.60"/></clipPath>
<g clip-path="url(#gc8)"><rect x="519.8" y="426.1" width="146.00" height="79.60" fill="#f8f2e4"/>
<path d="M520,426 L666,426 L666,506 L620,506 C605,500 588,492 570,483 C552,475 536,470 520,467 Z" fill="#dfcbb0" opacity="1.0" filter="url(#soft)"/><path d="M520,426 L666,426 L666,506 L620,506 C605,500 588,492 570,483 C552,475 536,470 520,467 Z" fill="#000" filter="url(#spD)"/><path d="M520,426 L666,426 L666,506 L620,506 C605,500 588,492 570,483 C552,475 536,470 520,467 Z" fill="#000" filter="url(#spB)"/><path d="M520,426 L666,426 L666,506 L620,506 C605,500 588,492 570,483 C552,475 536,470 520,467 Z" fill="#000" filter="url(#spU)"/><path d="M520,432 L560,432 C555,445 545,458 520,462 Z" fill="#d8c0a2" opacity="1.0" filter="url(#soft)"/><path d="M520,432 L560,432 C555,445 545,458 520,462 Z" fill="#000" filter="url(#spD)"/><path d="M548,440 C565,436 590,437 612,441 C612,452 605,460 592,458 C580,455 565,455 555,452 C550,448 548,444 548,440 Z" fill="#ebe4e6" opacity="1.0" filter="url(#soft)"/><path d="M548,440 C565,436 590,437 612,441 C612,452 605,460 592,458 C580,455 565,455 555,452 C550,448 548,444 548,440 Z" fill="#000" filter="url(#spU)"/><path d="M548,440 C565,436 590,437 612,441 C612,452 605,460 592,458 C580,455 565,455 555,452 C550,448 548,444 548,440 Z" fill="#000" filter="url(#spB)"/><path d="M625,441 C640,438 655,440 665,442 L665,462 C650,466 635,462 628,455 C626,450 625,446 625,441 Z" fill="#eae3e6" opacity="1.0" filter="url(#soft)"/><path d="M625,441 C640,438 655,440 665,442 L665,462 C650,466 635,462 628,455 C626,450 625,446 625,441 Z" fill="#000" filter="url(#spU)"/><path d="M625,441 C640,438 655,440 665,442 L665,462 C650,466 635,462 628,455 C626,450 625,446 625,441 Z" fill="#000" filter="url(#spB)"/><path d="M585,468 C595,463 605,465 610,472 C610,482 603,490 595,489 C589,482 586,476 585,468 Z" fill="#eae3e5" opacity="1.0" filter="url(#soft)"/><path d="M585,468 C595,463 605,465 610,472 C610,482 603,490 595,489 C589,482 586,476 585,468 Z" fill="#000" filter="url(#spU)"/><path d="M585,468 C595,463 605,465 610,472 C610,482 603,490 595,489 C589,482 586,476 585,468 Z" fill="#000" filter="url(#spB)"/><path d="M618,472 C632,468 648,470 660,476 C662,488 655,498 640,500 C628,495 620,485 618,472 Z" fill="#ebe3e5" opacity="1.0" filter="url(#soft)"/><path d="M618,472 C632,468 648,470 660,476 C662,488 655,498 640,500 C628,495 620,485 618,472 Z" fill="#000" filter="url(#spU)"/><path d="M618,472 C632,468 648,470 660,476 C662,488 655,498 640,500 C628,495 620,485 618,472 Z" fill="#000" filter="url(#spB)"/><path d="M520,426 L666,426 L666,433 C630,432 600,434 570,432 C550,431 535,433 520,434 Z" fill="#c4a07c" opacity="1.0" filter="url(#soft)"/><path d="M520,426 L666,426 L666,433 C630,432 600,434 570,432 C550,431 535,433 520,434 Z" fill="#000" filter="url(#spD)"/><path d="M525,445 C540,447 555,450 570,452 M528,452 C545,455 560,460 575,463" stroke="#b89070" stroke-width="1" opacity="0.6" fill="none"/><path d="M565,480 C572,484 580,488 588,490" stroke="#6a4a38" stroke-width="1.2" opacity="0.8"/>
</g>
<rect x="519.80" y="426.10" width="146.00" height="79.60" fill="none" stroke="#9a9a9a" stroke-width="0.9"/>
<text x="97.20" y="350.38" font-size="10.5" text-anchor="middle" fill="#111">Con</text>
<text x="258.50" y="350.38" font-size="10.5" text-anchor="middle" fill="#111">piR48444-KD</text>
<text x="434.30" y="350.38" font-size="10.5" text-anchor="middle" fill="#111">Con</text>
<text x="591.80" y="350.48" font-size="10.5" text-anchor="middle" fill="#111">piR48444-KD</text>
<text x="30.20" y="402.77" font-size="8.8" font-weight="bold" text-anchor="start" fill="#111">200 µm</text>
<rect x="34.20" y="406.20" width="11.80" height="2.60" fill="#000" stroke="none" stroke-width="1"/>
<text x="31.00" y="491.97" font-size="8.8" font-weight="bold" text-anchor="start" fill="#111">50 µm</text>
<rect x="34.20" y="496.20" width="11.80" height="2.40" fill="#000" stroke="none" stroke-width="1"/>
<text x="14.50" y="428.18" font-size="10.5" text-anchor="middle" fill="#111" transform="rotate(-90 14.50 424.40)">METTL7A</text>
<text x="348.10" y="427.18" font-size="10.5" text-anchor="middle" fill="#111" transform="rotate(-90 348.10 423.40)">BMP2</text>
<path d="M132.2,371.2 L173.2,371.2 L173.2,386.5 L132.2,386.5 Z" stroke="#111" stroke-width="1.35" stroke-dasharray="4.6 2.8" fill="none"/>
<path d="M132.2,386.5 L25.5,424.0" stroke="#111" stroke-width="1.35" stroke-dasharray="4.6 2.8" fill="none"/>
<path d="M173.2,386.5 L173.2,424.0" stroke="#111" stroke-width="1.35" stroke-dasharray="4.6 2.8" fill="none"/>
<path d="M282,376.3 L323.7,376.3 L323.7,391 L282,391 Z" stroke="#111" stroke-width="1.35" stroke-dasharray="4.6 2.8" fill="none"/>
<path d="M282,391 L185.8,424.3" stroke="#111" stroke-width="1.35" stroke-dasharray="4.6 2.8" fill="none"/>
<path d="M323.7,391 L333.9,424.3" stroke="#111" stroke-width="1.35" stroke-dasharray="4.6 2.8" fill="none"/>
<path d="M466.2,379.4 L506.4,379.4 L506.4,395.7 L466.2,395.7 Z" stroke="#111" stroke-width="1.35" stroke-dasharray="4.6 2.8" fill="none"/>
<path d="M466.2,395.7 L358.6,426.1" stroke="#111" stroke-width="1.35" stroke-dasharray="4.6 2.8" fill="none"/>
<path d="M506.4,395.7 L506.4,426.1" stroke="#111" stroke-width="1.35" stroke-dasharray="4.6 2.8" fill="none"/>
<path d="M610.7,373.7 L650.7,373.7 L650.7,388 L610.7,388 Z" stroke="#111" stroke-width="1.35" stroke-dasharray="4.6 2.8" fill="none"/>
<path d="M610.7,388 L519.8,426.1" stroke="#111" stroke-width="1.35" stroke-dasharray="4.6 2.8" fill="none"/>
<path d="M650.7,388 L664.7,426.1" stroke="#111" stroke-width="1.35" stroke-dasharray="4.6 2.8" fill="none"/>
</svg>
</body></html>
